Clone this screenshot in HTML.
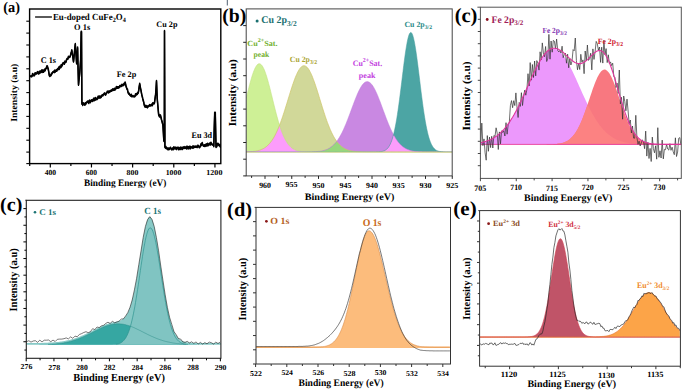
<!DOCTYPE html>
<html><head><meta charset="utf-8"><title>XPS spectra of Eu-doped CuFe2O4</title>
<style>html,body{margin:0;padding:0;background:#fff;overflow:hidden;} svg{display:block;font-family:"Liberation Serif", serif;text-rendering:geometricPrecision;}</style>
</head><body>
<svg width="685" height="392" viewBox="0 0 685 392"><defs>
<clipPath id="clipA"><rect x="29.6" y="9" width="191.2" height="154.6"/></clipPath>
<clipPath id="clipA2"><rect x="0" y="0" width="225" height="187.6"/></clipPath>
<clipPath id="clipB"><rect x="246.2" y="8.9" width="206" height="167"/></clipPath>
<clipPath id="clipC"><rect x="480.4" y="7.2" width="200.9" height="171.2"/></clipPath>
<clipPath id="clipC2"><rect x="26.3" y="200.3" width="194.6" height="157.7"/></clipPath>
<clipPath id="clipD"><rect x="256" y="207.4" width="194.5" height="156.6"/></clipPath>
<clipPath id="clipE"><rect x="479.6" y="210.6" width="200.8" height="155.6"/></clipPath>
</defs><rect width="685" height="392" fill="#fff"/>
<g clip-path="url(#clipA)">
<polyline points="29.6,75.6 30,75.8 30.5,75.9 30.9,75.9 31.3,76.2 31.7,75.5 32.1,75.8 32.6,73.5 33,74.5 33.4,74.3 33.8,75.3 34.2,74.4 34.6,74.9 35,72.8 35.4,73.5 35.8,72.8 36.2,73.4 36.6,73.3 37,73 37.4,71.6 37.8,72 38.2,72 38.6,73.4 39,72.9 39.4,71.2 39.8,72.7 40.2,70.9 40.6,71.9 41,71.5 41.4,70.4 41.8,69.9 42.2,71.9 42.6,70 43.1,69.9 43.5,71.6 43.9,71.1 44.3,70 44.7,69 45.1,70.2 45.6,68.6 46,68 46.4,67.7 46.9,65.8 47.3,65.8 47.8,67.4 48.3,69 48.8,72 49.3,75 49.8,75.8 50.2,74.9 50.6,75.3 51.1,74.9 51.5,73.1 52,73.3 52.4,72.7 52.8,71.9 53.2,71.6 53.6,71.1 54,71.4 54.4,71.9 54.8,70.1 55.2,71.5 55.6,70.4 56,70.5 56.4,69.7 56.8,70.6 57.2,69.4 57.6,68.6 58,68.7 58.4,68.9 58.8,66.9 59.2,68.9 59.6,66.2 60,67 60.4,67.2 60.8,67.1 61.2,64.6 61.6,66.1 62,64.7 62.4,64.8 62.8,63 63.2,62.7 63.6,62.6 64,63 64.4,63.6 64.9,61.1 65.3,61.9 65.7,61.8 66.2,61.2 66.6,59.2 67.1,58.6 67.5,58.5 67.9,58.5 68.4,56.3 68.8,56.7 69.2,56.9 69.7,56.6 70.1,56.3 70.5,55 70.9,53.3 71.4,51.5 71.8,49.8 72.2,52.7 72.7,55.6 73.1,58.5 73.5,61.4 74,57 74.4,52.5 74.8,48 75.3,43.6 75.7,50.1 76.2,56.7 76.6,63.2 77.1,55.2 77.6,47.1 78,65.8 78.5,84.6 78.9,80.4 79.4,76.2 79.8,72 80.6,60 81.2,31.3 81.5,31.3 81.9,103.6 82.3,102.5 82.7,104.8 83.2,102.7 83.6,103.4 84,103.8 84.4,103.9 84.8,104.5 85.2,102.8 85.6,104.1 86,103 86.4,102.2 86.8,102 87.2,101.5 87.6,101.1 88,101.1 88.4,102.2 88.8,102.8 89.2,100.5 89.6,100.1 90,101 90.4,102 90.8,100.7 91.2,100.2 91.6,99.7 92,100.4 92.4,100.8 92.8,99.7 93.2,99.4 93.6,98.3 94,100.3 94.4,97.9 94.8,98.9 95.2,99.6 95.6,97.6 96,98.4 96.4,98.8 96.8,99.1 97.2,98.1 97.6,98.3 98,96.3 98.4,97 98.8,96 99.2,97.6 99.6,96 100,96.1 100.4,97.3 100.8,96.7 101.2,96.8 101.6,95.3 102,95.2 102.4,94.9 102.8,95.3 103.3,94.4 103.7,93.7 104.1,93.8 104.5,92.9 104.9,93.2 105.4,94.5 105.8,94.2 106.2,93.1 106.6,92.6 107,91.9 107.4,91.1 107.9,91.3 108.3,92.3 108.7,92.3 109.1,90.8 109.5,91.6 110,91.4 110.4,90.9 110.8,90.2 111.2,90.4 111.6,90.5 112,89.4 112.4,90 112.8,88.8 113.2,89.1 113.6,89.7 114,89.3 114.4,88.2 114.8,89.6 115.2,88.7 115.6,88.4 116,88 116.4,86.5 116.8,87.7 117.2,86.7 117.7,87.5 118.1,86.7 118.5,87.4 118.9,86.7 119.3,86.9 119.8,85.5 120.2,86 120.6,86 121,85.2 121.4,85.7 121.9,84.3 122.3,85.2 122.8,85 123.2,84.3 123.7,84.8 124.1,83.3 124.6,83.7 125.1,81.9 125.6,84 126.1,86 126.5,87.3 126.9,88.6 127.4,88.9 127.8,91 128.2,92.5 128.7,93.5 129.1,93 129.6,94.3 130,94.5 130.4,95.2 130.8,95.5 131.3,94.2 131.7,96 132.1,95.6 132.6,96 133,95.6 133.4,96 133.8,96.1 134.3,96.3 134.7,95.7 135.1,95.8 135.6,93.8 136,94.8 136.5,93.5 136.9,93.7 137.4,93.8 137.8,92.3 138.3,92.5 138.8,89.4 139.2,86.4 139.7,83.3 140.1,85.6 140.5,87.8 141,90.1 141.4,92.3 141.8,94.6 142.3,96.4 142.7,98.2 143.2,100 143.7,101.9 144.1,103.9 144.6,105.8 145,106.5 145.4,106.5 145.8,105.3 146.2,106.5 146.6,106.1 147,105.9 147.4,107.2 147.8,106 148.3,106.2 148.7,105.6 149.1,105.3 149.6,104.6 150,105.5 150.4,105.2 150.8,104.7 151.2,105.1 151.6,104.8 152,103.7 152.4,105.1 152.8,102.7 153.2,103.4 153.6,102.9 154,103 154.4,103 155,98.5 155.6,94 156.1,87.2 156.5,80.5 157.2,98 157.7,103.7 158.2,109.3 158.7,115 159.1,114.3 159.5,116.3 160,115.5 160.4,114.9 160.8,116.3 161.2,118 161.6,119.7 162.1,121.4 162.5,123.1 162.9,124.8 163.4,132.7 163.8,140.5 164.3,141 164.5,30.4 164.9,146.8 165.4,147.4 165.9,146.5 166.3,148 166.8,148.2 167.2,147.8 167.6,148.4 168,149.3 168.4,149 168.9,147.9 169.3,148.9 169.7,148.5 170.1,147.8 170.5,147.2 170.9,148.3 171.3,148.2 171.7,149.2 172.1,149.2 172.5,148.3 172.9,147.7 173.4,149 173.8,146.8 174.2,147 174.6,148.2 175,148 175.4,148.3 175.8,147.1 176.2,148.3 176.6,148.9 177,147.6 177.4,147.7 177.8,147.2 178.2,147.3 178.6,149 179,147.5 179.4,148.9 179.8,148.8 180.2,148 180.6,147.1 181,148.9 181.4,147.7 181.8,147.4 182.2,147.2 182.6,148.8 183,147.6 183.4,147 183.8,147.5 184.2,146.6 184.6,147.8 185,147.5 185.4,147.3 185.8,146.9 186.2,148.1 186.6,148.2 187,146.1 187.4,147.4 187.8,146.7 188.2,148.3 188.6,147.9 189,146.5 189.4,146.5 189.8,146.2 190.2,148.3 190.6,146.5 191,147.2 191.4,146.9 191.8,147.3 192.2,147.1 192.6,147.4 193,145.8 193.4,147.4 193.8,146.2 194.2,146.8 194.6,146.2 195,146.6 195.4,146 195.8,146.6 196.3,146.3 196.7,146 197.1,146.9 197.5,146.5 198,145.1 198.4,145.6 198.8,146 199.2,147.1 199.7,147 200.1,146.1 200.5,145.9 200.9,143.8 201.3,144.9 201.8,143.2 202.2,142.5 202.7,144 203.2,145.2 203.6,145.6 204,145.4 204.4,144.9 204.8,145.9 205.2,144.5 205.6,144.5 206,145.6 206.4,143.8 206.8,144 207.2,145.3 207.6,143.3 208,144.3 208.4,145 208.8,144.4 209.2,143.6 209.7,143.1 210.1,144.1 210.5,144.3 210.9,142.2 211.3,142.9 211.7,143.4 212.1,144.1 212.6,144.4 213,144.5 213.4,144.6 213.8,146 214.2,129.2 214.7,112.3 215.3,112.3 216,146.8 216.4,146.3 216.8,146.1 217.3,143.6 217.7,143.2 218.1,143.2 218.6,144.5 219,145 219.4,145.3 219.9,144.2 220.4,146.5 220.8,146.5" fill="none" stroke="#000" stroke-width="1.5" stroke-linejoin="round" />
<polyline points="29.6,76.4 30,76.6 30.5,76.7 30.9,76.7 31.3,77 31.7,76.3 32.1,76.6 32.6,74.3 33,75.3 33.4,75.1 33.8,76.1 34.2,75.2 34.6,75.7 35,73.6 35.4,74.3 35.8,73.6 36.2,74.2 36.6,74.1 37,73.8 37.4,72.4 37.8,72.8 38.2,72.8 38.6,74.2 39,73.7 39.4,72 39.8,73.5 40.2,71.7 40.6,72.7 41,72.3 41.4,71.2 41.8,70.7 42.2,72.7 42.6,70.8 43.1,70.7 43.5,72.4 43.9,71.9 44.3,70.8 44.7,69.8 45.1,71 45.6,69.4 46,68.8 46.4,68.5 46.9,66.6 47.3,66.6 47.8,68.2 48.3,69.8 48.8,72.8 49.3,75.8 49.8,76.6 50.2,75.7 50.6,76.1 51.1,75.7 51.5,73.9 52,74.1 52.4,73.5 52.8,72.7 53.2,72.4 53.6,71.9 54,72.2 54.4,72.7 54.8,70.9 55.2,72.3 55.6,71.2 56,71.3 56.4,70.5 56.8,71.4 57.2,70.2 57.6,69.4 58,69.5 58.4,69.7 58.8,67.7 59.2,69.7 59.6,67 60,67.8 60.4,68 60.8,67.9 61.2,65.4 61.6,66.9 62,65.5 62.4,65.6 62.8,63.8 63.2,63.5 63.6,63.4 64,63.8 64.4,64.4 64.9,61.9 65.3,62.7 65.7,62.6 66.2,62 66.6,60 67.1,59.4 67.5,59.3 67.9,59.3 68.4,57.1 68.8,57.5 69.2,57.7 69.7,57.4 70.1,57.1 70.5,55.8 70.9,54.1 71.4,52.3 71.8,50.6 72.2,53.5 72.7,56.4 73.1,59.3 73.5,62.2 74,57.8 74.4,53.3 74.8,48.8 75.3,44.4 75.7,50.9 76.2,57.5 76.6,64 77.1,56 77.6,47.9 78,66.6 78.5,85.4 78.9,81.2 79.4,77 79.8,72.8 80.6,60.8 81.2,32.1 81.5,32.1 81.9,104.4 82.3,103.3 82.7,105.6 83.2,103.5 83.6,104.2 84,104.6 84.4,104.7 84.8,105.3 85.2,103.6 85.6,104.9 86,103.8 86.4,103 86.8,102.8 87.2,102.3 87.6,101.9 88,101.9 88.4,103 88.8,103.6 89.2,101.3 89.6,100.9 90,101.8 90.4,102.8 90.8,101.5 91.2,101 91.6,100.5 92,101.2 92.4,101.6 92.8,100.5 93.2,100.2 93.6,99.1 94,101.1 94.4,98.7 94.8,99.7 95.2,100.4 95.6,98.4 96,99.2 96.4,99.6 96.8,99.9 97.2,98.9 97.6,99.1 98,97.1 98.4,97.8 98.8,96.8 99.2,98.4 99.6,96.8 100,96.9 100.4,98.1 100.8,97.5 101.2,97.6 101.6,96.1 102,96 102.4,95.7 102.8,96.1 103.3,95.2 103.7,94.5 104.1,94.6 104.5,93.7 104.9,94 105.4,95.3 105.8,95 106.2,93.9 106.6,93.4 107,92.7 107.4,91.9 107.9,92.1 108.3,93.1 108.7,93.1 109.1,91.6 109.5,92.4 110,92.2 110.4,91.7 110.8,91 111.2,91.2 111.6,91.3 112,90.2 112.4,90.8 112.8,89.6 113.2,89.9 113.6,90.5 114,90.1 114.4,89 114.8,90.4 115.2,89.5 115.6,89.2 116,88.8 116.4,87.3 116.8,88.5 117.2,87.5 117.7,88.3 118.1,87.5 118.5,88.2 118.9,87.5 119.3,87.7 119.8,86.3 120.2,86.8 120.6,86.8 121,86 121.4,86.5 121.9,85.1 122.3,86 122.8,85.8 123.2,85.1 123.7,85.6 124.1,84.1 124.6,84.5 125.1,82.7 125.6,84.8 126.1,86.8 126.5,88.1 126.9,89.4 127.4,89.7 127.8,91.8 128.2,93.3 128.7,94.3 129.1,93.8 129.6,95.1 130,95.3 130.4,96 130.8,96.3 131.3,95 131.7,96.8 132.1,96.4 132.6,96.8 133,96.4 133.4,96.8 133.8,96.9 134.3,97.1 134.7,96.5 135.1,96.6 135.6,94.6 136,95.6 136.5,94.3 136.9,94.5 137.4,94.6 137.8,93.1 138.3,93.3 138.8,90.2 139.2,87.2 139.7,84.1 140.1,86.4 140.5,88.6 141,90.9 141.4,93.1 141.8,95.4 142.3,97.2 142.7,99 143.2,100.8 143.7,102.7 144.1,104.7 144.6,106.6 145,107.3 145.4,107.3 145.8,106.1 146.2,107.3 146.6,106.9 147,106.7 147.4,108 147.8,106.8 148.3,107 148.7,106.4 149.1,106.1 149.6,105.4 150,106.3 150.4,106 150.8,105.5 151.2,105.9 151.6,105.6 152,104.5 152.4,105.9 152.8,103.5 153.2,104.2 153.6,103.7 154,103.8 154.4,103.8 155,99.3 155.6,94.8 156.1,88 156.5,81.3 157.2,98.8 157.7,104.5 158.2,110.1 158.7,115.8 159.1,115.1 159.5,117.1 160,116.3 160.4,115.7 160.8,117.1 161.2,118.8 161.6,120.5 162.1,122.2 162.5,123.9 162.9,125.6 163.4,133.5 163.8,141.3 164.3,141.8 164.5,31.2 164.9,147.6 165.4,148.2 165.9,147.3 166.3,148.8 166.8,149 167.2,148.6 167.6,149.2 168,150.1 168.4,149.8 168.9,148.7 169.3,149.7 169.7,149.3 170.1,148.6 170.5,148 170.9,149.1 171.3,149 171.7,150 172.1,150 172.5,149.1 172.9,148.5 173.4,149.8 173.8,147.6 174.2,147.8 174.6,149 175,148.8 175.4,149.1 175.8,147.9 176.2,149.1 176.6,149.7 177,148.4 177.4,148.5 177.8,148 178.2,148.1 178.6,149.8 179,148.3 179.4,149.7 179.8,149.6 180.2,148.8 180.6,147.9 181,149.7 181.4,148.5 181.8,148.2 182.2,148 182.6,149.6 183,148.4 183.4,147.8 183.8,148.3 184.2,147.4 184.6,148.6 185,148.3 185.4,148.1 185.8,147.7 186.2,148.9 186.6,149 187,146.9 187.4,148.2 187.8,147.5 188.2,149.1 188.6,148.7 189,147.3 189.4,147.3 189.8,147 190.2,149.1 190.6,147.3 191,148 191.4,147.7 191.8,148.1 192.2,147.9 192.6,148.2 193,146.6 193.4,148.2 193.8,147 194.2,147.6 194.6,147 195,147.4 195.4,146.8 195.8,147.4 196.3,147.1 196.7,146.8 197.1,147.7 197.5,147.3 198,145.9 198.4,146.4 198.8,146.8 199.2,147.9 199.7,147.8 200.1,146.9 200.5,146.7 200.9,144.6 201.3,145.7 201.8,144 202.2,143.3 202.7,144.8 203.2,146 203.6,146.4 204,146.2 204.4,145.7 204.8,146.7 205.2,145.3 205.6,145.3 206,146.4 206.4,144.6 206.8,144.8 207.2,146.1 207.6,144.1 208,145.1 208.4,145.8 208.8,145.2 209.2,144.4 209.7,143.9 210.1,144.9 210.5,145.1 210.9,143 211.3,143.7 211.7,144.2 212.1,144.9 212.6,145.2 213,145.3 213.4,145.4 213.8,146.8 214.2,130 214.7,113.1 215.3,113.1 216,147.6 216.4,147.1 216.8,146.9 217.3,144.4 217.7,144 218.1,144 218.6,145.3 219,145.8 219.4,146.1 219.9,145 220.4,147.3 220.8,147.3" fill="none" stroke="#000" stroke-width="1.3" stroke-linejoin="round" />
</g>
<rect x="29.60" y="9.00" width="191.20" height="154.60" fill="none" stroke="#000" stroke-width="1.4"/>
<line x1="26.30" y1="21.20" x2="29.60" y2="21.20" stroke="#000" stroke-width="1.1" />
<line x1="26.30" y1="33.10" x2="29.60" y2="33.10" stroke="#000" stroke-width="1.1" />
<line x1="26.30" y1="45.00" x2="29.60" y2="45.00" stroke="#000" stroke-width="1.1" />
<line x1="26.30" y1="56.90" x2="29.60" y2="56.90" stroke="#000" stroke-width="1.1" />
<line x1="26.30" y1="68.80" x2="29.60" y2="68.80" stroke="#000" stroke-width="1.1" />
<line x1="26.30" y1="80.70" x2="29.60" y2="80.70" stroke="#000" stroke-width="1.1" />
<line x1="26.30" y1="92.60" x2="29.60" y2="92.60" stroke="#000" stroke-width="1.1" />
<line x1="26.30" y1="104.50" x2="29.60" y2="104.50" stroke="#000" stroke-width="1.1" />
<line x1="26.30" y1="116.40" x2="29.60" y2="116.40" stroke="#000" stroke-width="1.1" />
<line x1="26.30" y1="128.30" x2="29.60" y2="128.30" stroke="#000" stroke-width="1.1" />
<line x1="26.30" y1="140.20" x2="29.60" y2="140.20" stroke="#000" stroke-width="1.1" />
<line x1="26.30" y1="152.10" x2="29.60" y2="152.10" stroke="#000" stroke-width="1.1" />
<line x1="26.30" y1="163.60" x2="29.60" y2="163.60" stroke="#000" stroke-width="1.1" />
<line x1="29.72" y1="163.60" x2="29.72" y2="166.00" stroke="#000" stroke-width="1.2" />
<line x1="50.30" y1="163.60" x2="50.30" y2="167.50" stroke="#000" stroke-width="1.2" />
<line x1="70.88" y1="163.60" x2="70.88" y2="166.00" stroke="#000" stroke-width="1.2" />
<line x1="91.46" y1="163.60" x2="91.46" y2="167.50" stroke="#000" stroke-width="1.2" />
<line x1="112.04" y1="163.60" x2="112.04" y2="166.00" stroke="#000" stroke-width="1.2" />
<line x1="132.62" y1="163.60" x2="132.62" y2="167.50" stroke="#000" stroke-width="1.2" />
<line x1="153.20" y1="163.60" x2="153.20" y2="166.00" stroke="#000" stroke-width="1.2" />
<line x1="173.78" y1="163.60" x2="173.78" y2="167.50" stroke="#000" stroke-width="1.2" />
<line x1="194.36" y1="163.60" x2="194.36" y2="166.00" stroke="#000" stroke-width="1.2" />
<line x1="214.94" y1="163.60" x2="214.94" y2="167.50" stroke="#000" stroke-width="1.2" />
<g id="a_tl0" transform="matrix(1.0084 0 0 1.0373 -0.486 -6.151)" ><text x="44.80" y="174.90" font-size="7.5" fill="#000" font-weight="bold" >400</text></g>
<g id="a_tl1" transform="matrix(0.9913 0 0 1.0409 0.357 -6.646)" ><text x="86.16" y="174.90" font-size="7.5" fill="#000" font-weight="bold" >600</text></g>
<g id="a_tl2" transform="matrix(1.0452 0 0 1.0110 -6.365 -1.901)" ><text x="127.22" y="174.90" font-size="7.5" fill="#000" font-weight="bold" >800</text></g>
<g id="a_tl3" transform="matrix(1.0457 0 0 0.9934 -8.699 1.242)" ><text x="166.73" y="174.90" font-size="7.5" fill="#000" font-weight="bold" >1000</text></g>
<g id="a_tl4" transform="matrix(1.0701 0 0 1.0166 -15.785 -2.660)" ><text x="207.59" y="174.90" font-size="7.5" fill="#000" font-weight="bold" >1200</text></g>
<g id="a_xt" transform="matrix(0.9331 0 0 0.9798 5.030 3.932)" clip-path="url(#clipA2)"><text x="84.60" y="186.30" font-size="10" fill="#000" font-weight="bold" >Binding Energy (eV)</text></g>
<g id="a_yl" transform="matrix(0.9199 0 0 0.9683 3.312 3.238)" ><text x="14.75" y="92.45" font-size="10" fill="#000" font-weight="bold" text-anchor="middle" transform="rotate(-90 14.75 92.45)">Intensity (a.u)</text></g>
<g id="a_lbl" transform="matrix(0.9575 0 0 0.9860 -0.158 -0.108)" ><text x="3.50" y="12.00" font-size="15" fill="#000" font-weight="bold" >(a)</text></g>
<line x1="35.10" y1="17.00" x2="51.90" y2="17.00" stroke="#000" stroke-width="1.3" />
<g id="a_leg" transform="matrix(1.0295 0 0 1.0810 -2.164 -0.410)" ><text x="53.50" y="19.20" font-size="8.6" fill="#000" font-weight="bold" >Eu-doped CuFe<tspan dy="2" font-size="6">2</tspan><tspan dy="-2">O</tspan><tspan dy="2" font-size="6">4</tspan></text></g>
<g id="a_c1s" transform="matrix(1.0242 0 0 1.0755 -1.506 -4.828)" ><text x="41.30" y="62.90" font-size="8" fill="#000" font-weight="bold" >C 1s</text></g>
<g id="a_o1s" transform="matrix(1.0517 0 0 1.1043 -4.340 -2.839)" ><text x="74.60" y="29.90" font-size="8" fill="#000" font-weight="bold" >O 1s</text></g>
<g id="a_fe" transform="matrix(1.0305 0 0 1.0342 -4.148 -2.752)" ><text x="117.40" y="77.30" font-size="8" fill="#000" font-weight="bold" >Fe 2p</text></g>
<g id="a_cu" transform="matrix(1.0209 0 0 1.0327 -3.708 -1.401)" ><text x="156.80" y="27.90" font-size="8" fill="#000" font-weight="bold" >Cu 2p</text></g>
<g id="a_eu" transform="matrix(1.0167 0 0 1.0660 -3.956 -9.384)" ><text x="192.30" y="138.60" font-size="8" fill="#000" font-weight="bold" >Eu 3d</text></g>
<g clip-path="url(#clipB)">
<polygon points="246.2,152 246.2,98.4 246.9,95.6 247.6,92.7 248.3,89.9 249,87.2 249.7,84.5 250.4,81.9 251.1,79.4 251.8,77 252.5,74.8 253.2,72.8 253.9,70.9 254.6,69.2 255.3,67.7 256,66.5 256.7,65.4 257.4,64.6 258.1,64.1 258.8,63.8 259.5,63.7 260.2,63.9 260.9,64.4 261.6,65.1 262.3,66 263,67.2 263.7,68.5 264.4,70.1 265.1,71.9 265.8,73.9 266.5,76.1 267.2,78.4 267.9,80.8 268.6,83.4 269.3,86 270,88.7 270.7,91.5 271.4,94.4 272.1,97.2 272.8,100.1 273.5,102.9 274.2,105.8 274.9,108.5 275.6,111.3 276.3,114 277,116.6 277.7,119.1 278.4,121.5 279.1,123.8 279.8,126 280.5,128.2 281.2,130.2 281.9,132.1 282.6,133.8 283.3,135.5 284,137.1 284.7,138.5 285.4,139.9 286.1,141.1 286.8,142.2 287.5,143.3 288.2,144.3 288.9,145.1 289.6,145.9 290.3,146.6 291,147.3 291.7,147.9 292.4,148.4 293.1,148.8 293.8,149.2 294.5,149.6 295.2,149.9 295.9,150.2 296.6,150.5 297.3,150.7 298,150.9 298.7,151 299.4,151.2 300.1,151.3 300.8,151.4 301.5,151.5 302.2,151.6 302.9,151.7 303.6,151.7 304.3,151.8 305,151.8 305.7,151.8 306.4,151.9 307.1,151.9 307.8,151.9 308.5,151.9 309.2,151.9 309.9,151.9 310.6,152 311.3,152 312,152 312.7,152 313.4,152 314.1,152 314.8,152 315.5,152 316.2,152 316.9,152 317.6,152 318.3,152 319,152 319.7,152 320.4,152 321.1,152 321.8,152 322.5,152 323.2,152 323.9,152 324.6,152 325.3,152 326,152 326.7,152 327.4,152 328.1,152 328.8,152 329.5,152 330.2,152 330.9,152 331.6,152 332.3,152 333,152 333.7,152 334.4,152 335.1,152 335.8,152 336.5,152 337.2,152 337.9,152 338.6,152 339.3,152 340,152 340.7,152 341.4,152 342.1,152 342.8,152 343.5,152 344.2,152 344.9,152 345.6,152 346.3,152 347,152 347.7,152 348.4,152 349.1,152 349.8,152 350.5,152 351.2,152 351.9,152 352.6,152 353.3,152 354,152 354.7,152 355.4,152 356.1,152 356.8,152 357.5,152 358.2,152 358.9,152 359.6,152 360.3,152 361,152 361.7,152 362.4,152 363.1,152 363.8,152 364.5,152 365.2,152 365.9,152 366.6,152 367.3,152 368,152 368.7,152 369.4,152 370.1,152 370.8,152 371.5,152 372.2,152 372.9,152 373.6,152 374.3,152 375,152 375.7,152 376.4,152 377.1,152 377.8,152 378.5,152 379.2,152 379.9,152 380.6,152 381.3,152 382,152 382.7,152 383.4,152 384.1,152 384.8,152 385.5,152 386.2,152 386.9,152 387.6,152 388.3,152 389,152 389.7,152 390.4,152 391.1,152 391.8,152 392.5,152 393.2,152 393.9,152 394.6,152 395.3,152 396,152 396.7,152 397.4,152 398.1,152 398.8,152 399.5,152 400.2,152 400.9,152 401.6,152 402.3,152 403,152 403.7,152 404.4,152 405.1,152 405.8,152 406.5,152 407.2,152 407.9,152 408.6,152 409.3,152 410,152 410.7,152 411.4,152 412.1,152 412.8,152 413.5,152 414.2,152 414.9,152 415.6,152 416.3,152 417,152 417.7,152 418.4,152 419.1,152 419.8,152 420.5,152 421.2,152 421.9,152 422.6,152 423.3,152 424,152 424.7,152 425.4,152 426.1,152 426.8,152 427.5,152 428.2,152 428.9,152 429.6,152 430.3,152 431,152 431.7,152 432.4,152 433.1,152 433.8,152 434.5,152 435.2,152 435.9,152 436.6,152 437.3,152 438,152 438.7,152 439.4,152 440.1,152 440.8,152 441.5,152 442.2,152 442.9,152 443.6,152 444.3,152 445,152 445.7,152 446.4,152 447.1,152 447.8,152 448.5,152 449.2,152 449.9,152 450.6,152 451.3,152 452,152 452,152" fill="#cef096" />
<polygon points="246.2,152 246.2,151.9 246.9,151.9 247.6,151.8 248.3,151.8 249,151.8 249.7,151.7 250.4,151.7 251.1,151.6 251.8,151.6 252.5,151.5 253.2,151.4 253.9,151.4 254.6,151.3 255.3,151.2 256,151 256.7,150.9 257.4,150.8 258.1,150.6 258.8,150.4 259.5,150.2 260.2,150 260.9,149.7 261.6,149.4 262.3,149.1 263,148.8 263.7,148.4 264.4,148 265.1,147.5 265.8,147 266.5,146.5 267.2,145.9 267.9,145.2 268.6,144.5 269.3,143.8 270,143 270.7,142.1 271.4,141.2 272.1,140.2 272.8,139.1 273.5,138 274.2,136.8 274.9,135.5 275.6,134.1 276.3,132.7 277,131.2 277.7,129.6 278.4,128 279.1,126.3 279.8,124.5 280.5,122.7 281.2,120.7 281.9,118.8 282.6,116.7 283.3,114.6 284,112.5 284.7,110.3 285.4,108.1 286.1,105.8 286.8,103.6 287.5,101.3 288.2,99 288.9,96.7 289.6,94.4 290.3,92.2 291,90 291.7,87.8 292.4,85.6 293.1,83.6 293.8,81.6 294.5,79.6 295.2,77.8 295.9,76.1 296.6,74.5 297.3,72.9 298,71.6 298.7,70.3 299.4,69.2 300.1,68.2 300.8,67.4 301.5,66.7 302.2,66.2 302.9,65.9 303.6,65.7 304.3,65.7 305,65.9 305.7,66.2 306.4,66.7 307.1,67.3 307.8,68.1 308.5,69 309.2,70.1 309.9,71.4 310.6,72.7 311.3,74.2 312,75.8 312.7,77.6 313.4,79.4 314.1,81.3 314.8,83.3 315.5,85.3 316.2,87.5 316.9,89.6 317.6,91.9 318.3,94.1 319,96.4 319.7,98.7 320.4,101 321.1,103.2 321.8,105.5 322.5,107.8 323.2,110 323.9,112.2 324.6,114.3 325.3,116.4 326,118.5 326.7,120.5 327.4,122.4 328.1,124.2 328.8,126 329.5,127.8 330.2,129.4 330.9,131 331.6,132.5 332.3,133.9 333,135.3 333.7,136.6 334.4,137.8 335.1,139 335.8,140 336.5,141 337.2,142 337.9,142.9 338.6,143.7 339.3,144.4 340,145.1 340.7,145.8 341.4,146.4 342.1,146.9 342.8,147.4 343.5,147.9 344.2,148.3 344.9,148.7 345.6,149.1 346.3,149.4 347,149.7 347.7,149.9 348.4,150.2 349.1,150.4 349.8,150.6 350.5,150.7 351.2,150.9 351.9,151 352.6,151.1 353.3,151.3 354,151.3 354.7,151.4 355.4,151.5 356.1,151.6 356.8,151.6 357.5,151.7 358.2,151.7 358.9,151.8 359.6,151.8 360.3,151.8 361,151.8 361.7,151.9 362.4,151.9 363.1,151.9 363.8,151.9 364.5,151.9 365.2,151.9 365.9,152 366.6,152 367.3,152 368,152 368.7,152 369.4,152 370.1,152 370.8,152 371.5,152 372.2,152 372.9,152 373.6,152 374.3,152 375,152 375.7,152 376.4,152 377.1,152 377.8,152 378.5,152 379.2,152 379.9,152 380.6,152 381.3,152 382,152 382.7,152 383.4,152 384.1,152 384.8,152 385.5,152 386.2,152 386.9,152 387.6,152 388.3,152 389,152 389.7,152 390.4,152 391.1,152 391.8,152 392.5,152 393.2,152 393.9,152 394.6,152 395.3,152 396,152 396.7,152 397.4,152 398.1,152 398.8,152 399.5,152 400.2,152 400.9,152 401.6,152 402.3,152 403,152 403.7,152 404.4,152 405.1,152 405.8,152 406.5,152 407.2,152 407.9,152 408.6,152 409.3,152 410,152 410.7,152 411.4,152 412.1,152 412.8,152 413.5,152 414.2,152 414.9,152 415.6,152 416.3,152 417,152 417.7,152 418.4,152 419.1,152 419.8,152 420.5,152 421.2,152 421.9,152 422.6,152 423.3,152 424,152 424.7,152 425.4,152 426.1,152 426.8,152 427.5,152 428.2,152 428.9,152 429.6,152 430.3,152 431,152 431.7,152 432.4,152 433.1,152 433.8,152 434.5,152 435.2,152 435.9,152 436.6,152 437.3,152 438,152 438.7,152 439.4,152 440.1,152 440.8,152 441.5,152 442.2,152 442.9,152 443.6,152 444.3,152 445,152 445.7,152 446.4,152 447.1,152 447.8,152 448.5,152 449.2,152 449.9,152 450.6,152 451.3,152 452,152 452,152" fill="#d1d899" />
<polygon points="246.2,152 246.2,152 246.9,152 247.6,152 248.3,152 249,152 249.7,152 250.4,152 251.1,152 251.8,152 252.5,152 253.2,152 253.9,152 254.6,152 255.3,152 256,152 256.7,152 257.4,152 258.1,152 258.8,152 259.5,152 260.2,152 260.9,152 261.6,152 262.3,152 263,152 263.7,152 264.4,152 265.1,152 265.8,152 266.5,152 267.2,152 267.9,152 268.6,152 269.3,152 270,152 270.7,152 271.4,152 272.1,152 272.8,152 273.5,152 274.2,152 274.9,152 275.6,152 276.3,152 277,152 277.7,152 278.4,152 279.1,152 279.8,152 280.5,152 281.2,152 281.9,152 282.6,152 283.3,152 284,152 284.7,152 285.4,152 286.1,152 286.8,152 287.5,152 288.2,152 288.9,152 289.6,152 290.3,152 291,152 291.7,152 292.4,152 293.1,152 293.8,152 294.5,152 295.2,152 295.9,152 296.6,152 297.3,152 298,152 298.7,152 299.4,152 300.1,152 300.8,152 301.5,152 302.2,152 302.9,152 303.6,152 304.3,152 305,152 305.7,152 306.4,152 307.1,152 307.8,151.9 308.5,151.9 309.2,151.9 309.9,151.9 310.6,151.9 311.3,151.9 312,151.9 312.7,151.8 313.4,151.8 314.1,151.8 314.8,151.7 315.5,151.7 316.2,151.6 316.9,151.6 317.6,151.5 318.3,151.4 319,151.4 319.7,151.3 320.4,151.2 321.1,151.1 321.8,150.9 322.5,150.8 323.2,150.6 323.9,150.4 324.6,150.2 325.3,150 326,149.7 326.7,149.5 327.4,149.2 328.1,148.8 328.8,148.5 329.5,148.1 330.2,147.6 330.9,147.1 331.6,146.6 332.3,146 333,145.4 333.7,144.8 334.4,144.1 335.1,143.3 335.8,142.5 336.5,141.6 337.2,140.7 337.9,139.7 338.6,138.6 339.3,137.5 340,136.3 340.7,135.1 341.4,133.8 342.1,132.4 342.8,131 343.5,129.5 344.2,127.9 344.9,126.3 345.6,124.7 346.3,123 347,121.2 347.7,119.4 348.4,117.6 349.1,115.8 349.8,113.9 350.5,112 351.2,110.1 351.9,108.2 352.6,106.3 353.3,104.4 354,102.6 354.7,100.7 355.4,98.9 356.1,97.2 356.8,95.5 357.5,93.8 358.2,92.3 358.9,90.8 359.6,89.4 360.3,88.1 361,86.9 361.7,85.8 362.4,84.8 363.1,84 363.8,83.2 364.5,82.6 365.2,82.2 365.9,81.8 366.6,81.7 367.3,81.6 368,81.7 368.7,81.9 369.4,82.3 370.1,82.8 370.8,83.4 371.5,84.2 372.2,85.1 372.9,86.1 373.6,87.2 374.3,88.4 375,89.8 375.7,91.2 376.4,92.7 377.1,94.3 377.8,95.9 378.5,97.7 379.2,99.4 379.9,101.2 380.6,103.1 381.3,105 382,106.9 382.7,108.8 383.4,110.7 384.1,112.6 384.8,114.4 385.5,116.3 386.2,118.2 386.9,120 387.6,121.7 388.3,123.5 389,125.2 389.7,126.8 390.4,128.4 391.1,129.9 391.8,131.4 392.5,132.8 393.2,134.1 393.9,135.4 394.6,136.6 395.3,137.8 396,138.9 396.7,140 397.4,140.9 398.1,141.9 398.8,142.7 399.5,143.5 400.2,144.3 400.9,145 401.6,145.6 402.3,146.2 403,146.8 403.7,147.3 404.4,147.7 405.1,148.2 405.8,148.6 406.5,148.9 407.2,149.3 407.9,149.6 408.6,149.8 409.3,150.1 410,150.3 410.7,150.5 411.4,150.7 412.1,150.8 412.8,151 413.5,151.1 414.2,151.2 414.9,151.3 415.6,151.4 416.3,151.5 417,151.5 417.7,151.6 418.4,151.7 419.1,151.7 419.8,151.7 420.5,151.8 421.2,151.8 421.9,151.8 422.6,151.9 423.3,151.9 424,151.9 424.7,151.9 425.4,151.9 426.1,151.9 426.8,151.9 427.5,152 428.2,152 428.9,152 429.6,152 430.3,152 431,152 431.7,152 432.4,152 433.1,152 433.8,152 434.5,152 435.2,152 435.9,152 436.6,152 437.3,152 438,152 438.7,152 439.4,152 440.1,152 440.8,152 441.5,152 442.2,152 442.9,152 443.6,152 444.3,152 445,152 445.7,152 446.4,152 447.1,152 447.8,152 448.5,152 449.2,152 449.9,152 450.6,152 451.3,152 452,152 452,152" fill="#c988e2" />
<polygon points="246.2,152 246.2,152 246.9,152 247.6,152 248.3,152 249,152 249.7,152 250.4,152 251.1,152 251.8,152 252.5,152 253.2,152 253.9,152 254.6,152 255.3,152 256,152 256.7,152 257.4,152 258.1,152 258.8,152 259.5,152 260.2,152 260.9,152 261.6,152 262.3,152 263,152 263.7,152 264.4,152 265.1,152 265.8,152 266.5,152 267.2,152 267.9,152 268.6,152 269.3,152 270,152 270.7,152 271.4,152 272.1,152 272.8,152 273.5,152 274.2,152 274.9,152 275.6,152 276.3,152 277,152 277.7,152 278.4,152 279.1,152 279.8,152 280.5,152 281.2,152 281.9,152 282.6,152 283.3,152 284,152 284.7,152 285.4,152 286.1,152 286.8,152 287.5,152 288.2,152 288.9,152 289.6,152 290.3,152 291,152 291.7,152 292.4,152 293.1,152 293.8,152 294.5,152 295.2,152 295.9,152 296.6,152 297.3,152 298,152 298.7,152 299.4,152 300.1,152 300.8,152 301.5,152 302.2,152 302.9,152 303.6,152 304.3,152 305,152 305.7,152 306.4,152 307.1,152 307.8,152 308.5,152 309.2,152 309.9,152 310.6,152 311.3,152 312,152 312.7,152 313.4,152 314.1,152 314.8,152 315.5,152 316.2,152 316.9,152 317.6,152 318.3,152 319,152 319.7,152 320.4,152 321.1,152 321.8,152 322.5,152 323.2,152 323.9,152 324.6,152 325.3,152 326,152 326.7,152 327.4,152 328.1,152 328.8,152 329.5,152 330.2,152 330.9,152 331.6,152 332.3,152 333,152 333.7,152 334.4,152 335.1,152 335.8,152 336.5,152 337.2,152 337.9,152 338.6,152 339.3,152 340,152 340.7,152 341.4,152 342.1,152 342.8,152 343.5,152 344.2,152 344.9,152 345.6,152 346.3,152 347,152 347.7,152 348.4,152 349.1,152 349.8,152 350.5,152 351.2,152 351.9,152 352.6,152 353.3,152 354,152 354.7,152 355.4,152 356.1,152 356.8,152 357.5,152 358.2,152 358.9,152 359.6,152 360.3,152 361,152 361.7,152 362.4,152 363.1,152 363.8,152 364.5,152 365.2,152 365.9,152 366.6,152 367.3,152 368,152 368.7,152 369.4,152 370.1,152 370.8,152 371.5,152 372.2,152 372.9,152 373.6,152 374.3,152 375,152 375.7,152 376.4,151.9 377.1,151.9 377.8,151.9 378.5,151.9 379.2,151.8 379.9,151.7 380.6,151.7 381.3,151.6 382,151.4 382.7,151.3 383.4,151.1 384.1,150.8 384.8,150.5 385.5,150.1 386.2,149.6 386.9,149 387.6,148.3 388.3,147.4 389,146.4 389.7,145.2 390.4,143.9 391.1,142.2 391.8,140.4 392.5,138.2 393.2,135.8 393.9,133.1 394.6,130 395.3,126.6 396,122.9 396.7,118.9 397.4,114.5 398.1,109.8 398.8,104.8 399.5,99.6 400.2,94.1 400.9,88.5 401.6,82.8 402.3,77 403,71.3 403.7,65.6 404.4,60.2 405.1,55 405.8,50.2 406.5,45.9 407.2,42 407.9,38.7 408.6,36.1 409.3,34.1 410,32.9 410.7,32.4 411.4,32.7 412.1,33.7 412.8,35.4 413.5,37.9 414.2,41 414.9,44.7 415.6,48.9 416.3,53.6 417,58.7 417.7,64.1 418.4,69.6 419.1,75.3 419.8,81.1 420.5,86.9 421.2,92.5 421.9,98 422.6,103.3 423.3,108.4 424,113.2 424.7,117.6 425.4,121.8 426.1,125.6 426.8,129.1 427.5,132.2 428.2,135.1 428.9,137.6 429.6,139.8 430.3,141.7 431,143.4 431.7,144.9 432.4,146.1 433.1,147.2 433.8,148.1 434.5,148.8 435.2,149.4 435.9,150 436.6,150.4 437.3,150.7 438,151 438.7,151.2 439.4,151.4 440.1,151.5 440.8,151.6 441.5,151.7 442.2,151.8 442.9,151.8 443.6,151.9 444.3,151.9 445,151.9 445.7,152 446.4,152 447.1,152 447.8,152 448.5,152 449.2,152 449.9,152 450.6,152 451.3,152 452,152 452,152" fill="#4ca5a4" />
<polygon points="246.2,152.3 246.2,151.3 246.9,151.3 247.6,151.3 248.3,151.3 249,151.3 249.7,151.3 250.4,151.3 251.1,151.3 251.8,151.3 252.5,151.3 253.2,151.3 253.9,151.3 254.6,151.3 255.3,151.2 256,151 256.7,150.9 257.4,150.8 258.1,150.6 258.8,150.4 259.5,150.2 260.2,150 260.9,149.7 261.6,149.4 262.3,149.1 263,148.8 263.7,148.4 264.4,148 265.1,147.5 265.8,147 266.5,146.5 267.2,145.9 267.9,145.2 268.6,144.5 269.3,143.8 270,143 270.7,142.1 271.4,141.2 272.1,140.2 272.8,139.1 273.5,138 274.2,136.8 274.9,135.5 275.6,134.1 276.3,132.7 277,131.2 277.7,129.6 278.4,128 279.1,126.3 279.8,126 280.5,128.2 281.2,130.2 281.9,132.1 282.6,133.8 283.3,135.5 284,137.1 284.7,138.5 285.4,139.9 286.1,141.1 286.8,142.2 287.5,143.3 288.2,144.3 288.9,145.1 289.6,145.9 290.3,146.6 291,147.3 291.7,147.9 292.4,148.4 293.1,148.8 293.8,149.2 294.5,149.6 295.2,149.9 295.9,150.2 296.6,150.5 297.3,150.7 298,150.9 298.7,151 299.4,151.2 300.1,151.3 300.8,151.4 301.5,151.5 302.2,151.6 302.9,151.7 303.6,151.7 304.3,151.8 305,151.8 305.7,151.8 306.4,151.9 307.1,151.9 307.8,151.9 308.5,151.9 309.2,151.9 309.9,151.9 310.6,152 311.3,152 312,152 312.7,152 313.4,152 314.1,152 314.8,152 315.5,152 316.2,152 316.9,152 317.6,152 318.3,152 319,152 319.7,152 320.4,152 321.1,152 321.8,152 322.5,152 323.2,152 323.9,152 324.6,152 325.3,152 326,152 326.7,152 327.4,152 328.1,152 328.8,152 329.5,152 330.2,152 330.9,152 331.6,152 332.3,152 333,152 333.7,152 334.4,152 335.1,152 335.8,152 336.5,152 337.2,152 337.9,152 338.6,152 339.3,152 340,152 340.7,152 341.4,152 342.1,152 342.8,152 343.5,152 344.2,152 344.9,152 345.6,152 346.3,152 347,152 347.7,152 348.4,152 349.1,152 349.8,152 350.5,152 351.2,152 351.9,152 352.6,152 353.3,152 354,152 354.7,152 355.4,152 356.1,152 356.8,152 357.5,152 358.2,152 358.9,152 359.6,152 360.3,152 361,152 361.7,152 362.4,152 363.1,152 363.8,152 364.5,152 365.2,152 365.9,152 366.6,152 367.3,152 368,152 368.7,152 369.4,152 370.1,152 370.8,152 371.5,152 372.2,152 372.9,152 373.6,152 374.3,152 375,152 375.7,152 376.4,152 377.1,152 377.8,152 378.5,152 379.2,152 379.9,152 380.6,152 381.3,152 382,152 382.7,152 383.4,152 384.1,152 384.8,152 385.5,152 386.2,152 386.9,152 387.6,152 388.3,152 389,152 389.7,152 390.4,152 391.1,152 391.8,152 392.5,152 393.2,152 393.9,152 394.6,152 395.3,152 396,152 396.7,152 397.4,152 398.1,152 398.8,152 399.5,152 400.2,152 400.9,152 401.6,152 402.3,152 403,152 403.7,152 404.4,152 405.1,152 405.8,152 406.5,152 407.2,152 407.9,152 408.6,152 409.3,152 410,152 410.7,152 411.4,152 412.1,152 412.8,152 413.5,152 414.2,152 414.9,152 415.6,152 416.3,152 417,152 417.7,152 418.4,152 419.1,152 419.8,152 420.5,152 421.2,152 421.9,152 422.6,152 423.3,152 424,152 424.7,152 425.4,152 426.1,152 426.8,152 427.5,152 428.2,152 428.9,152 429.6,152 430.3,152 431,152 431.7,152 432.4,152 433.1,152 433.8,152 434.5,152 435.2,152 435.9,152 436.6,152 437.3,152 438,152 438.7,152 439.4,152 440.1,152 440.8,152 441.5,152 442.2,152 442.9,152 443.6,152 444.3,152 445,152 445.7,152 446.4,152 447.1,152 447.8,152 448.5,152 449.2,152 449.9,152 450.6,152 451.3,152 452,152 452,152.3" fill="#fc9cfb" />
<polygon points="246.2,152 246.2,152 246.9,152 247.6,152 248.3,152 249,152 249.7,152 250.4,152 251.1,152 251.8,152 252.5,152 253.2,152 253.9,152 254.6,152 255.3,152 256,152 256.7,152 257.4,152 258.1,152 258.8,152 259.5,152 260.2,152 260.9,152 261.6,152 262.3,152 263,152 263.7,152 264.4,152 265.1,152 265.8,152 266.5,152 267.2,152 267.9,152 268.6,152 269.3,152 270,152 270.7,152 271.4,152 272.1,152 272.8,152 273.5,152 274.2,152 274.9,152 275.6,152 276.3,152 277,152 277.7,152 278.4,152 279.1,152 279.8,152 280.5,152 281.2,152 281.9,152 282.6,152 283.3,152 284,152 284.7,152 285.4,152 286.1,152 286.8,152 287.5,152 288.2,152 288.9,152 289.6,152 290.3,152 291,152 291.7,152 292.4,152 293.1,152 293.8,152 294.5,152 295.2,152 295.9,152 296.6,152 297.3,152 298,152 298.7,152 299.4,152 300.1,152 300.8,152 301.5,152 302.2,152 302.9,152 303.6,152 304.3,152 305,152 305.7,152 306.4,152 307.1,152 307.8,151.9 308.5,151.9 309.2,151.9 309.9,151.9 310.6,151.9 311.3,151.9 312,151.9 312.7,151.8 313.4,151.8 314.1,151.8 314.8,151.7 315.5,151.7 316.2,151.6 316.9,151.6 317.6,151.5 318.3,151.4 319,151.4 319.7,151.3 320.4,151.2 321.1,151.1 321.8,150.9 322.5,150.8 323.2,150.6 323.9,150.4 324.6,150.2 325.3,150 326,149.7 326.7,149.5 327.4,149.2 328.1,148.8 328.8,148.5 329.5,148.1 330.2,147.6 330.9,147.1 331.6,146.6 332.3,146 333,145.4 333.7,144.8 334.4,144.1 335.1,143.3 335.8,142.5 336.5,141.6 337.2,142 337.9,142.9 338.6,143.7 339.3,144.4 340,145.1 340.7,145.8 341.4,146.4 342.1,146.9 342.8,147.4 343.5,147.9 344.2,148.3 344.9,148.7 345.6,149.1 346.3,149.4 347,149.7 347.7,149.9 348.4,150.2 349.1,150.4 349.8,150.6 350.5,150.7 351.2,150.9 351.9,151 352.6,151.1 353.3,151.3 354,151.3 354.7,151.4 355.4,151.5 356.1,151.6 356.8,151.6 357.5,151.7 358.2,151.7 358.9,151.8 359.6,151.8 360.3,151.8 361,151.8 361.7,151.9 362.4,151.9 363.1,151.9 363.8,151.9 364.5,151.9 365.2,151.9 365.9,152 366.6,152 367.3,152 368,152 368.7,152 369.4,152 370.1,152 370.8,152 371.5,152 372.2,152 372.9,152 373.6,152 374.3,152 375,152 375.7,152 376.4,152 377.1,152 377.8,152 378.5,152 379.2,152 379.9,152 380.6,152 381.3,152 382,152 382.7,152 383.4,152 384.1,152 384.8,152 385.5,152 386.2,152 386.9,152 387.6,152 388.3,152 389,152 389.7,152 390.4,152 391.1,152 391.8,152 392.5,152 393.2,152 393.9,152 394.6,152 395.3,152 396,152 396.7,152 397.4,152 398.1,152 398.8,152 399.5,152 400.2,152 400.9,152 401.6,152 402.3,152 403,152 403.7,152 404.4,152 405.1,152 405.8,152 406.5,152 407.2,152 407.9,152 408.6,152 409.3,152 410,152 410.7,152 411.4,152 412.1,152 412.8,152 413.5,152 414.2,152 414.9,152 415.6,152 416.3,152 417,152 417.7,152 418.4,152 419.1,152 419.8,152 420.5,152 421.2,152 421.9,152 422.6,152 423.3,152 424,152 424.7,152 425.4,152 426.1,152 426.8,152 427.5,152 428.2,152 428.9,152 429.6,152 430.3,152 431,152 431.7,152 432.4,152 433.1,152 433.8,152 434.5,152 435.2,152 435.9,152 436.6,152 437.3,152 438,152 438.7,152 439.4,152 440.1,152 440.8,152 441.5,152 442.2,152 442.9,152 443.6,152 444.3,152 445,152 445.7,152 446.4,152 447.1,152 447.8,152 448.5,152 449.2,152 449.9,152 450.6,152 451.3,152 452,152 452,152" fill="#97d77c" />
<polygon points="246.2,152 246.2,152 246.9,152 247.6,152 248.3,152 249,152 249.7,152 250.4,152 251.1,152 251.8,152 252.5,152 253.2,152 253.9,152 254.6,152 255.3,152 256,152 256.7,152 257.4,152 258.1,152 258.8,152 259.5,152 260.2,152 260.9,152 261.6,152 262.3,152 263,152 263.7,152 264.4,152 265.1,152 265.8,152 266.5,152 267.2,152 267.9,152 268.6,152 269.3,152 270,152 270.7,152 271.4,152 272.1,152 272.8,152 273.5,152 274.2,152 274.9,152 275.6,152 276.3,152 277,152 277.7,152 278.4,152 279.1,152 279.8,152 280.5,152 281.2,152 281.9,152 282.6,152 283.3,152 284,152 284.7,152 285.4,152 286.1,152 286.8,152 287.5,152 288.2,152 288.9,152 289.6,152 290.3,152 291,152 291.7,152 292.4,152 293.1,152 293.8,152 294.5,152 295.2,152 295.9,152 296.6,152 297.3,152 298,152 298.7,152 299.4,152 300.1,152 300.8,152 301.5,152 302.2,152 302.9,152 303.6,152 304.3,152 305,152 305.7,152 306.4,152 307.1,152 307.8,152 308.5,152 309.2,152 309.9,152 310.6,152 311.3,152 312,152 312.7,152 313.4,152 314.1,152 314.8,152 315.5,152 316.2,152 316.9,152 317.6,152 318.3,152 319,152 319.7,152 320.4,152 321.1,152 321.8,152 322.5,152 323.2,152 323.9,152 324.6,152 325.3,152 326,152 326.7,152 327.4,152 328.1,152 328.8,152 329.5,152 330.2,152 330.9,152 331.6,152 332.3,152 333,152 333.7,152 334.4,152 335.1,152 335.8,152 336.5,152 337.2,152 337.9,152 338.6,152 339.3,152 340,152 340.7,152 341.4,152 342.1,152 342.8,152 343.5,152 344.2,152 344.9,152 345.6,152 346.3,152 347,152 347.7,152 348.4,152 349.1,152 349.8,152 350.5,152 351.2,152 351.9,152 352.6,152 353.3,152 354,152 354.7,152 355.4,152 356.1,152 356.8,152 357.5,152 358.2,152 358.9,152 359.6,152 360.3,152 361,152 361.7,152 362.4,152 363.1,152 363.8,152 364.5,152 365.2,152 365.9,152 366.6,152 367.3,152 368,152 368.7,152 369.4,152 370.1,152 370.8,152 371.5,152 372.2,152 372.9,152 373.6,152 374.3,152 375,152 375.7,152 376.4,151.9 377.1,151.9 377.8,151.9 378.5,151.9 379.2,151.8 379.9,151.7 380.6,151.7 381.3,151.6 382,151.4 382.7,151.3 383.4,151.1 384.1,150.8 384.8,150.5 385.5,150.1 386.2,149.6 386.9,149 387.6,148.3 388.3,147.4 389,146.4 389.7,145.2 390.4,143.9 391.1,142.2 391.8,140.4 392.5,138.2 393.2,135.8 393.9,135.4 394.6,136.6 395.3,137.8 396,138.9 396.7,140 397.4,140.9 398.1,141.9 398.8,142.7 399.5,143.5 400.2,144.3 400.9,145 401.6,145.6 402.3,146.2 403,146.8 403.7,147.3 404.4,147.7 405.1,148.2 405.8,148.6 406.5,148.9 407.2,149.3 407.9,149.6 408.6,149.8 409.3,150.1 410,150.3 410.7,150.5 411.4,150.7 412.1,150.8 412.8,151 413.5,151.1 414.2,151.2 414.9,151.3 415.6,151.4 416.3,151.5 417,151.5 417.7,151.6 418.4,151.7 419.1,151.7 419.8,151.7 420.5,151.8 421.2,151.8 421.9,151.8 422.6,151.9 423.3,151.9 424,151.9 424.7,151.9 425.4,151.9 426.1,151.9 426.8,151.9 427.5,152 428.2,152 428.9,152 429.6,152 430.3,152 431,152 431.7,152 432.4,152 433.1,152 433.8,152 434.5,152 435.2,152 435.9,152 436.6,152 437.3,152 438,152 438.7,152 439.4,152 440.1,152 440.8,152 441.5,152 442.2,152 442.9,152 443.6,152 444.3,152 445,152 445.7,152 446.4,152 447.1,152 447.8,152 448.5,152 449.2,152 449.9,152 450.6,152 451.3,152 452,152 452,152" fill="#fc9cfb" />
<polyline points="246.2,98.4 246.9,95.6 247.6,92.7 248.3,89.9 249,87.2 249.7,84.5 250.4,81.9 251.1,79.4 251.8,77 252.5,74.8 253.2,72.8 253.9,70.9 254.6,69.2 255.3,67.7 256,66.5 256.7,65.4 257.4,64.6 258.1,64.1 258.8,63.8 259.5,63.7 260.2,63.9 260.9,64.4 261.6,65.1 262.3,66 263,67.2 263.7,68.5 264.4,70.1 265.1,71.9 265.8,73.9 266.5,76.1 267.2,78.4 267.9,80.8 268.6,83.4 269.3,86 270,88.7 270.7,91.5 271.4,94.4 272.1,97.2 272.8,100.1 273.5,102.9 274.2,105.8 274.9,108.5 275.6,111.3 276.3,114 277,116.6 277.7,119.1 278.4,121.5 279.1,123.8 279.8,126 280.5,128.2 281.2,130.2 281.9,132.1 282.6,133.8 283.3,135.5 284,137.1 284.7,138.5 285.4,139.9 286.1,141.1 286.8,142.2 287.5,143.3 288.2,144.3 288.9,145.1 289.6,145.9 290.3,146.6 291,147.3 291.7,147.9 292.4,148.4 293.1,148.8 293.8,149.2 294.5,149.6 295.2,149.9 295.9,150.2 296.6,150.5 297.3,150.7 298,150.9 298.7,151 299.4,151.2 300.1,151.3 300.8,151.4 301.5,151.5 302.2,151.6 302.9,151.7 303.6,151.7 304.3,151.8 305,151.8 305.7,151.8 306.4,151.9 307.1,151.9 307.8,151.9 308.5,151.9 309.2,151.9 309.9,151.9 310.6,152 311.3,152 312,152 312.7,152 313.4,152 314.1,152 314.8,152 315.5,152 316.2,152 316.9,152 317.6,152 318.3,152 319,152 319.7,152 320.4,152 321.1,152 321.8,152 322.5,152 323.2,152 323.9,152 324.6,152 325.3,152 326,152 326.7,152 327.4,152 328.1,152 328.8,152 329.5,152 330.2,152 330.9,152 331.6,152 332.3,152 333,152 333.7,152 334.4,152 335.1,152 335.8,152 336.5,152 337.2,152 337.9,152 338.6,152 339.3,152 340,152 340.7,152 341.4,152 342.1,152 342.8,152 343.5,152 344.2,152 344.9,152 345.6,152 346.3,152 347,152 347.7,152 348.4,152 349.1,152 349.8,152 350.5,152 351.2,152 351.9,152 352.6,152 353.3,152 354,152 354.7,152 355.4,152 356.1,152 356.8,152 357.5,152 358.2,152 358.9,152 359.6,152 360.3,152 361,152 361.7,152 362.4,152 363.1,152 363.8,152 364.5,152 365.2,152 365.9,152 366.6,152 367.3,152 368,152 368.7,152 369.4,152 370.1,152 370.8,152 371.5,152 372.2,152 372.9,152 373.6,152 374.3,152 375,152 375.7,152 376.4,152 377.1,152 377.8,152 378.5,152 379.2,152 379.9,152 380.6,152 381.3,152 382,152 382.7,152 383.4,152 384.1,152 384.8,152 385.5,152 386.2,152 386.9,152 387.6,152 388.3,152 389,152 389.7,152 390.4,152 391.1,152 391.8,152 392.5,152 393.2,152 393.9,152 394.6,152 395.3,152 396,152 396.7,152 397.4,152 398.1,152 398.8,152 399.5,152 400.2,152 400.9,152 401.6,152 402.3,152 403,152 403.7,152 404.4,152 405.1,152 405.8,152 406.5,152 407.2,152 407.9,152 408.6,152 409.3,152 410,152 410.7,152 411.4,152 412.1,152 412.8,152 413.5,152 414.2,152 414.9,152 415.6,152 416.3,152 417,152 417.7,152 418.4,152 419.1,152 419.8,152 420.5,152 421.2,152 421.9,152 422.6,152 423.3,152 424,152 424.7,152 425.4,152 426.1,152 426.8,152 427.5,152 428.2,152 428.9,152 429.6,152 430.3,152 431,152 431.7,152 432.4,152 433.1,152 433.8,152 434.5,152 435.2,152 435.9,152 436.6,152 437.3,152 438,152 438.7,152 439.4,152 440.1,152 440.8,152 441.5,152 442.2,152 442.9,152 443.6,152 444.3,152 445,152 445.7,152 446.4,152 447.1,152 447.8,152 448.5,152 449.2,152 449.9,152 450.6,152 451.3,152 452,152" fill="none" stroke="#c2e282" stroke-width="0.6" stroke-linejoin="round" />
<polyline points="246.2,151.9 246.9,151.9 247.6,151.8 248.3,151.8 249,151.8 249.7,151.7 250.4,151.7 251.1,151.6 251.8,151.6 252.5,151.5 253.2,151.4 253.9,151.4 254.6,151.3 255.3,151.2 256,151 256.7,150.9 257.4,150.8 258.1,150.6 258.8,150.4 259.5,150.2 260.2,150 260.9,149.7 261.6,149.4 262.3,149.1 263,148.8 263.7,148.4 264.4,148 265.1,147.5 265.8,147 266.5,146.5 267.2,145.9 267.9,145.2 268.6,144.5 269.3,143.8 270,143 270.7,142.1 271.4,141.2 272.1,140.2 272.8,139.1 273.5,138 274.2,136.8 274.9,135.5 275.6,134.1 276.3,132.7 277,131.2 277.7,129.6 278.4,128 279.1,126.3 279.8,124.5 280.5,122.7 281.2,120.7 281.9,118.8 282.6,116.7 283.3,114.6 284,112.5 284.7,110.3 285.4,108.1 286.1,105.8 286.8,103.6 287.5,101.3 288.2,99 288.9,96.7 289.6,94.4 290.3,92.2 291,90 291.7,87.8 292.4,85.6 293.1,83.6 293.8,81.6 294.5,79.6 295.2,77.8 295.9,76.1 296.6,74.5 297.3,72.9 298,71.6 298.7,70.3 299.4,69.2 300.1,68.2 300.8,67.4 301.5,66.7 302.2,66.2 302.9,65.9 303.6,65.7 304.3,65.7 305,65.9 305.7,66.2 306.4,66.7 307.1,67.3 307.8,68.1 308.5,69 309.2,70.1 309.9,71.4 310.6,72.7 311.3,74.2 312,75.8 312.7,77.6 313.4,79.4 314.1,81.3 314.8,83.3 315.5,85.3 316.2,87.5 316.9,89.6 317.6,91.9 318.3,94.1 319,96.4 319.7,98.7 320.4,101 321.1,103.2 321.8,105.5 322.5,107.8 323.2,110 323.9,112.2 324.6,114.3 325.3,116.4 326,118.5 326.7,120.5 327.4,122.4 328.1,124.2 328.8,126 329.5,127.8 330.2,129.4 330.9,131 331.6,132.5 332.3,133.9 333,135.3 333.7,136.6 334.4,137.8 335.1,139 335.8,140 336.5,141 337.2,142 337.9,142.9 338.6,143.7 339.3,144.4 340,145.1 340.7,145.8 341.4,146.4 342.1,146.9 342.8,147.4 343.5,147.9 344.2,148.3 344.9,148.7 345.6,149.1 346.3,149.4 347,149.7 347.7,149.9 348.4,150.2 349.1,150.4 349.8,150.6 350.5,150.7 351.2,150.9 351.9,151 352.6,151.1 353.3,151.3 354,151.3 354.7,151.4 355.4,151.5 356.1,151.6 356.8,151.6 357.5,151.7 358.2,151.7 358.9,151.8 359.6,151.8 360.3,151.8 361,151.8 361.7,151.9 362.4,151.9 363.1,151.9 363.8,151.9 364.5,151.9 365.2,151.9 365.9,152 366.6,152 367.3,152 368,152 368.7,152 369.4,152 370.1,152 370.8,152 371.5,152 372.2,152 372.9,152 373.6,152 374.3,152 375,152 375.7,152 376.4,152 377.1,152 377.8,152 378.5,152 379.2,152 379.9,152 380.6,152 381.3,152 382,152 382.7,152 383.4,152 384.1,152 384.8,152 385.5,152 386.2,152 386.9,152 387.6,152 388.3,152 389,152 389.7,152 390.4,152 391.1,152 391.8,152 392.5,152 393.2,152 393.9,152 394.6,152 395.3,152 396,152 396.7,152 397.4,152 398.1,152 398.8,152 399.5,152 400.2,152 400.9,152 401.6,152 402.3,152 403,152 403.7,152 404.4,152 405.1,152 405.8,152 406.5,152 407.2,152 407.9,152 408.6,152 409.3,152 410,152 410.7,152 411.4,152 412.1,152 412.8,152 413.5,152 414.2,152 414.9,152 415.6,152 416.3,152 417,152 417.7,152 418.4,152 419.1,152 419.8,152 420.5,152 421.2,152 421.9,152 422.6,152 423.3,152 424,152 424.7,152 425.4,152 426.1,152 426.8,152 427.5,152 428.2,152 428.9,152 429.6,152 430.3,152 431,152 431.7,152 432.4,152 433.1,152 433.8,152 434.5,152 435.2,152 435.9,152 436.6,152 437.3,152 438,152 438.7,152 439.4,152 440.1,152 440.8,152 441.5,152 442.2,152 442.9,152 443.6,152 444.3,152 445,152 445.7,152 446.4,152 447.1,152 447.8,152 448.5,152 449.2,152 449.9,152 450.6,152 451.3,152 452,152" fill="none" stroke="#cfc56a" stroke-width="0.7" stroke-linejoin="round" />
<polyline points="246.2,152 246.9,152 247.6,152 248.3,152 249,152 249.7,152 250.4,152 251.1,152 251.8,152 252.5,152 253.2,152 253.9,152 254.6,152 255.3,152 256,152 256.7,152 257.4,152 258.1,152 258.8,152 259.5,152 260.2,152 260.9,152 261.6,152 262.3,152 263,152 263.7,152 264.4,152 265.1,152 265.8,152 266.5,152 267.2,152 267.9,152 268.6,152 269.3,152 270,152 270.7,152 271.4,152 272.1,152 272.8,152 273.5,152 274.2,152 274.9,152 275.6,152 276.3,152 277,152 277.7,152 278.4,152 279.1,152 279.8,152 280.5,152 281.2,152 281.9,152 282.6,152 283.3,152 284,152 284.7,152 285.4,152 286.1,152 286.8,152 287.5,152 288.2,152 288.9,152 289.6,152 290.3,152 291,152 291.7,152 292.4,152 293.1,152 293.8,152 294.5,152 295.2,152 295.9,152 296.6,152 297.3,152 298,152 298.7,152 299.4,152 300.1,152 300.8,152 301.5,152 302.2,152 302.9,152 303.6,152 304.3,152 305,152 305.7,152 306.4,152 307.1,152 307.8,151.9 308.5,151.9 309.2,151.9 309.9,151.9 310.6,151.9 311.3,151.9 312,151.9 312.7,151.8 313.4,151.8 314.1,151.8 314.8,151.7 315.5,151.7 316.2,151.6 316.9,151.6 317.6,151.5 318.3,151.4 319,151.4 319.7,151.3 320.4,151.2 321.1,151.1 321.8,150.9 322.5,150.8 323.2,150.6 323.9,150.4 324.6,150.2 325.3,150 326,149.7 326.7,149.5 327.4,149.2 328.1,148.8 328.8,148.5 329.5,148.1 330.2,147.6 330.9,147.1 331.6,146.6 332.3,146 333,145.4 333.7,144.8 334.4,144.1 335.1,143.3 335.8,142.5 336.5,141.6 337.2,140.7 337.9,139.7 338.6,138.6 339.3,137.5 340,136.3 340.7,135.1 341.4,133.8 342.1,132.4 342.8,131 343.5,129.5 344.2,127.9 344.9,126.3 345.6,124.7 346.3,123 347,121.2 347.7,119.4 348.4,117.6 349.1,115.8 349.8,113.9 350.5,112 351.2,110.1 351.9,108.2 352.6,106.3 353.3,104.4 354,102.6 354.7,100.7 355.4,98.9 356.1,97.2 356.8,95.5 357.5,93.8 358.2,92.3 358.9,90.8 359.6,89.4 360.3,88.1 361,86.9 361.7,85.8 362.4,84.8 363.1,84 363.8,83.2 364.5,82.6 365.2,82.2 365.9,81.8 366.6,81.7 367.3,81.6 368,81.7 368.7,81.9 369.4,82.3 370.1,82.8 370.8,83.4 371.5,84.2 372.2,85.1 372.9,86.1 373.6,87.2 374.3,88.4 375,89.8 375.7,91.2 376.4,92.7 377.1,94.3 377.8,95.9 378.5,97.7 379.2,99.4 379.9,101.2 380.6,103.1 381.3,105 382,106.9 382.7,108.8 383.4,110.7 384.1,112.6 384.8,114.4 385.5,116.3 386.2,118.2 386.9,120 387.6,121.7 388.3,123.5 389,125.2 389.7,126.8 390.4,128.4 391.1,129.9 391.8,131.4 392.5,132.8 393.2,134.1 393.9,135.4 394.6,136.6 395.3,137.8 396,138.9 396.7,140 397.4,140.9 398.1,141.9 398.8,142.7 399.5,143.5 400.2,144.3 400.9,145 401.6,145.6 402.3,146.2 403,146.8 403.7,147.3 404.4,147.7 405.1,148.2 405.8,148.6 406.5,148.9 407.2,149.3 407.9,149.6 408.6,149.8 409.3,150.1 410,150.3 410.7,150.5 411.4,150.7 412.1,150.8 412.8,151 413.5,151.1 414.2,151.2 414.9,151.3 415.6,151.4 416.3,151.5 417,151.5 417.7,151.6 418.4,151.7 419.1,151.7 419.8,151.7 420.5,151.8 421.2,151.8 421.9,151.8 422.6,151.9 423.3,151.9 424,151.9 424.7,151.9 425.4,151.9 426.1,151.9 426.8,151.9 427.5,152 428.2,152 428.9,152 429.6,152 430.3,152 431,152 431.7,152 432.4,152 433.1,152 433.8,152 434.5,152 435.2,152 435.9,152 436.6,152 437.3,152 438,152 438.7,152 439.4,152 440.1,152 440.8,152 441.5,152 442.2,152 442.9,152 443.6,152 444.3,152 445,152 445.7,152 446.4,152 447.1,152 447.8,152 448.5,152 449.2,152 449.9,152 450.6,152 451.3,152 452,152" fill="none" stroke="#bf7fdb" stroke-width="0.5" stroke-linejoin="round" />
<polyline points="246.2,152 246.9,152 247.6,152 248.3,152 249,152 249.7,152 250.4,152 251.1,152 251.8,152 252.5,152 253.2,152 253.9,152 254.6,152 255.3,152 256,152 256.7,152 257.4,152 258.1,152 258.8,152 259.5,152 260.2,152 260.9,152 261.6,152 262.3,152 263,152 263.7,152 264.4,152 265.1,152 265.8,152 266.5,152 267.2,152 267.9,152 268.6,152 269.3,152 270,152 270.7,152 271.4,152 272.1,152 272.8,152 273.5,152 274.2,152 274.9,152 275.6,152 276.3,152 277,152 277.7,152 278.4,152 279.1,152 279.8,152 280.5,152 281.2,152 281.9,152 282.6,152 283.3,152 284,152 284.7,152 285.4,152 286.1,152 286.8,152 287.5,152 288.2,152 288.9,152 289.6,152 290.3,152 291,152 291.7,152 292.4,152 293.1,152 293.8,152 294.5,152 295.2,152 295.9,152 296.6,152 297.3,152 298,152 298.7,152 299.4,152 300.1,152 300.8,152 301.5,152 302.2,152 302.9,152 303.6,152 304.3,152 305,152 305.7,152 306.4,152 307.1,152 307.8,152 308.5,152 309.2,152 309.9,152 310.6,152 311.3,152 312,152 312.7,152 313.4,152 314.1,152 314.8,152 315.5,152 316.2,152 316.9,152 317.6,152 318.3,152 319,152 319.7,152 320.4,152 321.1,152 321.8,152 322.5,152 323.2,152 323.9,152 324.6,152 325.3,152 326,152 326.7,152 327.4,152 328.1,152 328.8,152 329.5,152 330.2,152 330.9,152 331.6,152 332.3,152 333,152 333.7,152 334.4,152 335.1,152 335.8,152 336.5,152 337.2,152 337.9,152 338.6,152 339.3,152 340,152 340.7,152 341.4,152 342.1,152 342.8,152 343.5,152 344.2,152 344.9,152 345.6,152 346.3,152 347,152 347.7,152 348.4,152 349.1,152 349.8,152 350.5,152 351.2,152 351.9,152 352.6,152 353.3,152 354,152 354.7,152 355.4,152 356.1,152 356.8,152 357.5,152 358.2,152 358.9,152 359.6,152 360.3,152 361,152 361.7,152 362.4,152 363.1,152 363.8,152 364.5,152 365.2,152 365.9,152 366.6,152 367.3,152 368,152 368.7,152 369.4,152 370.1,152 370.8,152 371.5,152 372.2,152 372.9,152 373.6,152 374.3,152 375,152 375.7,152 376.4,151.9 377.1,151.9 377.8,151.9 378.5,151.9 379.2,151.8 379.9,151.7 380.6,151.7 381.3,151.6 382,151.4 382.7,151.3 383.4,151.1 384.1,150.8 384.8,150.5 385.5,150.1 386.2,149.6 386.9,149 387.6,148.3 388.3,147.4 389,146.4 389.7,145.2 390.4,143.9 391.1,142.2 391.8,140.4 392.5,138.2 393.2,135.8 393.9,133.1 394.6,130 395.3,126.6 396,122.9 396.7,118.9 397.4,114.5 398.1,109.8 398.8,104.8 399.5,99.6 400.2,94.1 400.9,88.5 401.6,82.8 402.3,77 403,71.3 403.7,65.6 404.4,60.2 405.1,55 405.8,50.2 406.5,45.9 407.2,42 407.9,38.7 408.6,36.1 409.3,34.1 410,32.9 410.7,32.4 411.4,32.7 412.1,33.7 412.8,35.4 413.5,37.9 414.2,41 414.9,44.7 415.6,48.9 416.3,53.6 417,58.7 417.7,64.1 418.4,69.6 419.1,75.3 419.8,81.1 420.5,86.9 421.2,92.5 421.9,98 422.6,103.3 423.3,108.4 424,113.2 424.7,117.6 425.4,121.8 426.1,125.6 426.8,129.1 427.5,132.2 428.2,135.1 428.9,137.6 429.6,139.8 430.3,141.7 431,143.4 431.7,144.9 432.4,146.1 433.1,147.2 433.8,148.1 434.5,148.8 435.2,149.4 435.9,150 436.6,150.4 437.3,150.7 438,151 438.7,151.2 439.4,151.4 440.1,151.5 440.8,151.6 441.5,151.7 442.2,151.8 442.9,151.8 443.6,151.9 444.3,151.9 445,151.9 445.7,152 446.4,152 447.1,152 447.8,152 448.5,152 449.2,152 449.9,152 450.6,152 451.3,152 452,152" fill="none" stroke="#449c9c" stroke-width="0.5" stroke-linejoin="round" />
<line x1="246.20" y1="152.40" x2="452.20" y2="152.40" stroke="#dde0a0" stroke-width="0.9" />
</g>
<rect x="246.20" y="8.90" width="206.00" height="167.00" fill="none" stroke="#444" stroke-width="1.0"/>
<line x1="243.20" y1="25.60" x2="246.20" y2="25.60" stroke="#222" stroke-width="1.0" />
<line x1="243.20" y1="42.30" x2="246.20" y2="42.30" stroke="#222" stroke-width="1.0" />
<line x1="243.20" y1="59.00" x2="246.20" y2="59.00" stroke="#222" stroke-width="1.0" />
<line x1="243.20" y1="75.70" x2="246.20" y2="75.70" stroke="#222" stroke-width="1.0" />
<line x1="243.20" y1="92.40" x2="246.20" y2="92.40" stroke="#222" stroke-width="1.0" />
<line x1="243.20" y1="109.10" x2="246.20" y2="109.10" stroke="#222" stroke-width="1.0" />
<line x1="243.20" y1="125.80" x2="246.20" y2="125.80" stroke="#222" stroke-width="1.0" />
<line x1="243.20" y1="142.50" x2="246.20" y2="142.50" stroke="#222" stroke-width="1.0" />
<line x1="243.20" y1="159.20" x2="246.20" y2="159.20" stroke="#222" stroke-width="1.0" />
<line x1="243.20" y1="175.90" x2="246.20" y2="175.90" stroke="#222" stroke-width="1.0" />
<line x1="251.62" y1="175.90" x2="251.62" y2="177.90" stroke="#222" stroke-width="1.0" />
<line x1="265.00" y1="175.90" x2="265.00" y2="178.90" stroke="#222" stroke-width="1.0" />
<line x1="278.38" y1="175.90" x2="278.38" y2="177.90" stroke="#222" stroke-width="1.0" />
<line x1="291.75" y1="175.90" x2="291.75" y2="178.90" stroke="#222" stroke-width="1.0" />
<line x1="305.12" y1="175.90" x2="305.12" y2="177.90" stroke="#222" stroke-width="1.0" />
<line x1="318.50" y1="175.90" x2="318.50" y2="178.90" stroke="#222" stroke-width="1.0" />
<line x1="331.88" y1="175.90" x2="331.88" y2="177.90" stroke="#222" stroke-width="1.0" />
<line x1="345.25" y1="175.90" x2="345.25" y2="178.90" stroke="#222" stroke-width="1.0" />
<line x1="358.62" y1="175.90" x2="358.62" y2="177.90" stroke="#222" stroke-width="1.0" />
<line x1="372.00" y1="175.90" x2="372.00" y2="178.90" stroke="#222" stroke-width="1.0" />
<line x1="385.38" y1="175.90" x2="385.38" y2="177.90" stroke="#222" stroke-width="1.0" />
<line x1="398.75" y1="175.90" x2="398.75" y2="178.90" stroke="#222" stroke-width="1.0" />
<line x1="412.12" y1="175.90" x2="412.12" y2="177.90" stroke="#222" stroke-width="1.0" />
<line x1="425.50" y1="175.90" x2="425.50" y2="178.90" stroke="#222" stroke-width="1.0" />
<line x1="438.88" y1="175.90" x2="438.88" y2="177.90" stroke="#222" stroke-width="1.0" />
<line x1="452.25" y1="175.90" x2="452.25" y2="178.90" stroke="#222" stroke-width="1.0" />
<g id="b_tl0" transform="matrix(1.0444 0 0 1.0813 -11.729 -14.655)" ><text x="259.35" y="187.50" font-size="7.5" fill="#000" font-weight="bold" >960</text></g>
<g id="b_tl1" transform="matrix(1.0707 0 0 1.0404 -20.762 -7.690)" ><text x="286.10" y="187.50" font-size="7.5" fill="#000" font-weight="bold" >955</text></g>
<g id="b_tl2" transform="matrix(1.0723 0 0 1.0284 -22.971 -4.820)" ><text x="312.85" y="187.50" font-size="7.5" fill="#000" font-weight="bold" >950</text></g>
<g id="b_tl3" transform="matrix(1.0584 0 0 1.0297 -19.984 -5.019)" ><text x="339.60" y="187.50" font-size="7.5" fill="#000" font-weight="bold" >945</text></g>
<g id="b_tl4" transform="matrix(1.0492 0 0 1.0509 -18.347 -9.509)" ><text x="366.35" y="187.50" font-size="7.5" fill="#000" font-weight="bold" >940</text></g>
<g id="b_tl5" transform="matrix(1.0807 0 0 1.0267 -32.271 -4.996)" ><text x="393.10" y="187.50" font-size="7.5" fill="#000" font-weight="bold" >935</text></g>
<g id="b_tl6" transform="matrix(1.0767 0 0 1.0281 -32.596 -4.781)" ><text x="419.85" y="187.50" font-size="7.5" fill="#000" font-weight="bold" >930</text></g>
<g id="b_tl7" transform="matrix(1.0773 0 0 1.0234 -34.854 -4.126)" ><text x="446.60" y="187.50" font-size="7.5" fill="#000" font-weight="bold" >925</text></g>
<g id="b_xt" transform="matrix(0.9665 0 0 0.9329 9.748 13.383)" ><text x="305.20" y="200.10" font-size="10.5" fill="#000" font-weight="bold" >Binding Energy (eV)</text></g>
<g id="b_yl" transform="matrix(0.9742 0 0 1.0139 8.338 -1.139)" ><text x="233.80" y="92.60" font-size="11" fill="#000" font-weight="bold" text-anchor="middle" transform="rotate(-90 233.80 92.60)">Intensity (a.u)</text></g>
<g id="b_lbl" transform="matrix(1.0360 0 0 1.0323 -8.760 -0.853)" ><text x="223.00" y="22.00" font-size="19" fill="#000" font-weight="bold" >(b)</text></g>
<circle cx="257.1" cy="21.1" r="1.5" fill="#1a7070"/>
<g id="b_hdr" transform="matrix(0.9956 0 0 1.0183 0.501 -0.277)" ><text x="262.00" y="23.30" font-size="10" fill="#1a7070" font-weight="bold" >Cu 2p<tspan dy="2.5" font-size="7.5">3/2</tspan></text></g>
<g id="b_sat1" transform="matrix(1.0856 0 0 1.0419 -21.564 -2.415)" ><text x="247.70" y="46.70" font-size="7.5" fill="#72b02e" font-weight="bold" >Cu<tspan dy="-3.8" font-size="5.6">2+</tspan><tspan dy="3.8">Sat.</tspan></text></g>
<g id="b_pk1" transform="matrix(1.0169 0 0 1.0491 -4.644 -3.133)" ><text x="253.90" y="57.60" font-size="7.5" fill="#72b02e" font-weight="bold" >peak</text></g>
<g id="b_cuk" transform="matrix(1.0377 0 0 1.0779 -11.268 -4.136)" ><text x="290.10" y="61.50" font-size="7.5" fill="#aca633" font-weight="bold" >Cu 2p<tspan dy="2" font-size="5.5">3/2</tspan></text></g>
<g id="b_sat2" transform="matrix(1.0552 0 0 1.1079 -19.869 -7.231)" ><text x="353.10" y="65.90" font-size="7.5" fill="#c23ee0" font-weight="bold" >Cu<tspan dy="-3.8" font-size="5.6">2+</tspan><tspan dy="3.8">Sat.</tspan></text></g>
<g id="b_pk2" transform="matrix(1.0799 0 0 1.0389 -29.192 -2.847)" ><text x="359.30" y="77.60" font-size="7.5" fill="#c23ee0" font-weight="bold" >peak</text></g>
<g id="b_cut" transform="matrix(1.0481 0 0 1.0573 -19.871 -1.430)" ><text x="404.80" y="26.60" font-size="7.5" fill="#2a8a88" font-weight="bold" >Cu 2p<tspan dy="2" font-size="5.5">3/2</tspan></text></g>
<line x1="227.30" y1="0.00" x2="227.30" y2="5.50" stroke="#506070" stroke-width="1.0" />
<g clip-path="url(#clipC)">
<polygon points="480.4,144.4 480.4,142.7 481.1,142.5 481.8,142.4 482.5,142.2 483.2,142.1 483.9,141.9 484.6,141.7 485.3,141.5 486,141.3 486.7,141 487.4,140.8 488.1,140.5 488.8,140.3 489.5,140 490.2,139.7 490.9,139.4 491.6,139 492.3,138.7 493,138.3 493.7,137.9 494.4,137.5 495.1,137 495.8,136.6 496.5,136.1 497.2,135.6 497.9,135 498.6,134.5 499.3,133.9 500,133.3 500.7,132.6 501.4,131.9 502.1,131.2 502.8,130.5 503.5,129.8 504.2,129 504.9,128.2 505.6,127.3 506.3,126.4 507,125.5 507.7,124.6 508.4,123.6 509.1,122.6 509.8,121.6 510.5,120.5 511.2,119.4 511.9,118.3 512.6,117.2 513.3,116 514,114.8 514.7,113.5 515.4,112.2 516.1,110.9 516.8,109.6 517.5,108.2 518.2,106.9 518.9,105.5 519.6,104 520.3,102.6 521,101.1 521.7,99.6 522.4,98.1 523.1,96.6 523.8,95.1 524.5,93.5 525.2,92 525.9,90.4 526.6,88.8 527.3,87.3 528,85.7 528.7,84.1 529.4,82.5 530.1,81 530.8,79.4 531.5,77.9 532.2,76.3 532.9,74.8 533.6,73.3 534.3,71.8 535,70.4 535.7,69 536.4,67.6 537.1,66.2 537.8,64.9 538.5,63.6 539.2,62.3 539.9,61.1 540.6,59.9 541.3,58.8 542,57.7 542.7,56.7 543.4,55.8 544.1,54.8 544.8,54 545.5,53.2 546.2,52.5 546.9,51.8 547.6,51.2 548.3,50.6 549,50.1 549.7,49.7 550.4,49.4 551.1,49.1 551.8,48.9 552.5,48.8 553.2,48.7 553.9,48.7 554.6,48.8 555.3,48.9 556,49.1 556.7,49.4 557.4,49.8 558.1,50.2 558.8,50.7 559.5,51.3 560.2,51.9 560.9,52.6 561.6,53.3 562.3,54.1 563,55 563.7,55.9 564.4,56.9 565.1,57.9 565.8,59 566.5,60.1 567.2,61.3 567.9,62.5 568.6,63.8 569.3,65.1 570,66.4 570.7,67.8 571.4,69.2 572.1,70.6 572.8,72.1 573.5,73.5 574.2,75 574.9,76.6 575.6,78.1 576.3,79.6 577,81.2 577.7,82.8 578.4,84.3 579.1,85.9 579.8,87.5 580.5,89.1 581.2,90.6 581.9,92.2 582.6,93.7 583.3,95.3 584,96.8 584.7,98.3 585.4,99.8 586.1,101.3 586.8,102.8 587.5,104.2 588.2,105.7 588.9,107.1 589.6,108.4 590.3,109.8 591,111.1 591.7,112.4 592.4,113.7 593.1,114.9 593.8,116.1 594.5,117.3 595.2,118.5 595.9,119.6 596.6,120.7 597.3,121.7 598,122.8 598.7,123.8 599.4,124.7 600.1,125.7 600.8,126.6 601.5,127.4 602.2,128.3 602.9,129.1 603.6,129.9 604.3,130.6 605,131.3 605.7,132 606.4,132.7 607.1,133.3 607.8,134 608.5,134.5 609.2,135.1 609.9,135.6 610.6,136.1 611.3,136.6 612,137.1 612.7,137.5 613.4,137.9 614.1,138.3 614.8,138.7 615.5,139.1 616.2,139.4 616.9,139.7 617.6,140 618.3,140.3 619,140.6 619.7,140.8 620.4,141.1 621.1,141.3 621.8,141.5 622.5,141.7 623.2,141.9 623.9,142.1 624.6,142.3 625.3,142.4 626,142.6 626.7,142.7 627.4,142.8 628.1,142.9 628.8,143 629.5,143.2 630.2,143.2 630.9,143.3 631.6,143.4 632.3,143.5 633,143.6 633.7,143.6 634.4,143.7 635.1,143.8 635.8,143.8 636.5,143.9 637.2,143.9 637.9,143.9 638.6,144 639.3,144 640,144.1 640.7,144.1 641.4,144.1 642.1,144.1 642.8,144.2 643.5,144.2 644.2,144.2 644.9,144.2 645.6,144.2 646.3,144.3 647,144.3 647.7,144.3 648.4,144.3 649.1,144.3 649.8,144.3 650.5,144.3 651.2,144.3 651.9,144.3 652.6,144.3 653.3,144.3 654,144.4 654.7,144.4 655.4,144.4 656.1,144.4 656.8,144.4 657.5,144.4 658.2,144.4 658.9,144.4 659.6,144.4 660.3,144.4 661,144.4 661.7,144.4 662.4,144.4 663.1,144.4 663.8,144.4 664.5,144.4 665.2,144.4 665.9,144.4 666.6,144.4 667.3,144.4 668,144.4 668.7,144.4 669.4,144.4 670.1,144.4 670.8,144.4 671.5,144.4 672.2,144.4 672.9,144.4 673.6,144.4 674.3,144.4 675,144.4 675.7,144.4 676.4,144.4 677.1,144.4 677.8,144.4 678.5,144.4 679.2,144.4 679.9,144.4 680.6,144.4 681.3,144.4 681.3,144.4" fill="#ec98fc" />
<polygon points="480.4,144.4 480.4,144.4 481.1,144.4 481.8,144.4 482.5,144.4 483.2,144.4 483.9,144.4 484.6,144.4 485.3,144.4 486,144.4 486.7,144.4 487.4,144.4 488.1,144.4 488.8,144.4 489.5,144.4 490.2,144.4 490.9,144.4 491.6,144.4 492.3,144.4 493,144.4 493.7,144.4 494.4,144.4 495.1,144.4 495.8,144.4 496.5,144.4 497.2,144.4 497.9,144.4 498.6,144.4 499.3,144.4 500,144.4 500.7,144.4 501.4,144.4 502.1,144.4 502.8,144.4 503.5,144.4 504.2,144.4 504.9,144.4 505.6,144.4 506.3,144.4 507,144.4 507.7,144.4 508.4,144.4 509.1,144.4 509.8,144.4 510.5,144.4 511.2,144.4 511.9,144.4 512.6,144.4 513.3,144.4 514,144.4 514.7,144.4 515.4,144.4 516.1,144.4 516.8,144.4 517.5,144.4 518.2,144.4 518.9,144.4 519.6,144.4 520.3,144.4 521,144.4 521.7,144.4 522.4,144.4 523.1,144.4 523.8,144.4 524.5,144.4 525.2,144.4 525.9,144.4 526.6,144.4 527.3,144.4 528,144.4 528.7,144.4 529.4,144.4 530.1,144.4 530.8,144.4 531.5,144.4 532.2,144.4 532.9,144.4 533.6,144.4 534.3,144.4 535,144.4 535.7,144.4 536.4,144.4 537.1,144.4 537.8,144.4 538.5,144.4 539.2,144.4 539.9,144.4 540.6,144.4 541.3,144.4 542,144.4 542.7,144.4 543.4,144.4 544.1,144.4 544.8,144.4 545.5,144.4 546.2,144.4 546.9,144.3 547.6,144.3 548.3,144.3 549,144.3 549.7,144.3 550.4,144.3 551.1,144.3 551.8,144.2 552.5,144.2 553.2,144.2 553.9,144.1 554.6,144.1 555.3,144 556,144 556.7,143.9 557.4,143.8 558.1,143.7 558.8,143.6 559.5,143.5 560.2,143.4 560.9,143.2 561.6,143.1 562.3,142.9 563,142.7 563.7,142.5 564.4,142.2 565.1,141.9 565.8,141.6 566.5,141.2 567.2,140.9 567.9,140.4 568.6,140 569.3,139.5 570,138.9 570.7,138.3 571.4,137.6 572.1,136.9 572.8,136.1 573.5,135.3 574.2,134.4 574.9,133.4 575.6,132.4 576.3,131.3 577,130.2 577.7,128.9 578.4,127.6 579.1,126.2 579.8,124.8 580.5,123.2 581.2,121.7 581.9,120 582.6,118.3 583.3,116.5 584,114.6 584.7,112.7 585.4,110.8 586.1,108.8 586.8,106.8 587.5,104.7 588.2,102.6 588.9,100.5 589.6,98.4 590.3,96.3 591,94.2 591.7,92.2 592.4,90.1 593.1,88.1 593.8,86.2 594.5,84.3 595.2,82.5 595.9,80.8 596.6,79.2 597.3,77.6 598,76.2 598.7,74.9 599.4,73.7 600.1,72.7 600.8,71.8 601.5,71.1 602.2,70.5 602.9,70 603.6,69.7 604.3,69.6 605,69.6 605.7,69.8 606.4,70.2 607.1,70.7 607.8,71.4 608.5,72.2 609.2,73.1 609.9,74.2 610.6,75.5 611.3,76.8 612,78.3 612.7,79.9 613.4,81.5 614.1,83.3 614.8,85.1 615.5,87 616.2,89 616.9,91 617.6,93.1 618.3,95.1 619,97.2 619.7,99.3 620.4,101.4 621.1,103.5 621.8,105.6 622.5,107.6 623.2,109.7 623.9,111.6 624.6,113.6 625.3,115.4 626,117.3 626.7,119 627.4,120.7 628.1,122.3 628.8,123.9 629.5,125.4 630.2,126.8 630.9,128.2 631.6,129.5 632.3,130.7 633,131.8 633.7,132.9 634.4,133.9 635.1,134.8 635.8,135.7 636.5,136.5 637.2,137.2 637.9,137.9 638.6,138.6 639.3,139.1 640,139.7 640.7,140.2 641.4,140.6 642.1,141 642.8,141.4 643.5,141.7 644.2,142 644.9,142.3 645.6,142.6 646.3,142.8 647,143 647.7,143.2 648.4,143.3 649.1,143.4 649.8,143.6 650.5,143.7 651.2,143.8 651.9,143.9 652.6,143.9 653.3,144 654,144.1 654.7,144.1 655.4,144.1 656.1,144.2 656.8,144.2 657.5,144.2 658.2,144.3 658.9,144.3 659.6,144.3 660.3,144.3 661,144.3 661.7,144.3 662.4,144.4 663.1,144.4 663.8,144.4 664.5,144.4 665.2,144.4 665.9,144.4 666.6,144.4 667.3,144.4 668,144.4 668.7,144.4 669.4,144.4 670.1,144.4 670.8,144.4 671.5,144.4 672.2,144.4 672.9,144.4 673.6,144.4 674.3,144.4 675,144.4 675.7,144.4 676.4,144.4 677.1,144.4 677.8,144.4 678.5,144.4 679.2,144.4 679.9,144.4 680.6,144.4 681.3,144.4 681.3,144.4" fill="#f87880" />
<polygon points="480.4,144.4 480.4,144.4 481.1,144.4 481.8,144.4 482.5,144.4 483.2,144.4 483.9,144.4 484.6,144.4 485.3,144.4 486,144.4 486.7,144.4 487.4,144.4 488.1,144.4 488.8,144.4 489.5,144.4 490.2,144.4 490.9,144.4 491.6,144.4 492.3,144.4 493,144.4 493.7,144.4 494.4,144.4 495.1,144.4 495.8,144.4 496.5,144.4 497.2,144.4 497.9,144.4 498.6,144.4 499.3,144.4 500,144.4 500.7,144.4 501.4,144.4 502.1,144.4 502.8,144.4 503.5,144.4 504.2,144.4 504.9,144.4 505.6,144.4 506.3,144.4 507,144.4 507.7,144.4 508.4,144.4 509.1,144.4 509.8,144.4 510.5,144.4 511.2,144.4 511.9,144.4 512.6,144.4 513.3,144.4 514,144.4 514.7,144.4 515.4,144.4 516.1,144.4 516.8,144.4 517.5,144.4 518.2,144.4 518.9,144.4 519.6,144.4 520.3,144.4 521,144.4 521.7,144.4 522.4,144.4 523.1,144.4 523.8,144.4 524.5,144.4 525.2,144.4 525.9,144.4 526.6,144.4 527.3,144.4 528,144.4 528.7,144.4 529.4,144.4 530.1,144.4 530.8,144.4 531.5,144.4 532.2,144.4 532.9,144.4 533.6,144.4 534.3,144.4 535,144.4 535.7,144.4 536.4,144.4 537.1,144.4 537.8,144.4 538.5,144.4 539.2,144.4 539.9,144.4 540.6,144.4 541.3,144.4 542,144.4 542.7,144.4 543.4,144.4 544.1,144.4 544.8,144.4 545.5,144.4 546.2,144.4 546.9,144.3 547.6,144.3 548.3,144.3 549,144.3 549.7,144.3 550.4,144.3 551.1,144.3 551.8,144.2 552.5,144.2 553.2,144.2 553.9,144.1 554.6,144.1 555.3,144 556,144 556.7,143.9 557.4,143.8 558.1,143.7 558.8,143.6 559.5,143.5 560.2,143.4 560.9,143.2 561.6,143.1 562.3,142.9 563,142.7 563.7,142.5 564.4,142.2 565.1,141.9 565.8,141.6 566.5,141.2 567.2,140.9 567.9,140.4 568.6,140 569.3,139.5 570,138.9 570.7,138.3 571.4,137.6 572.1,136.9 572.8,136.1 573.5,135.3 574.2,134.4 574.9,133.4 575.6,132.4 576.3,131.3 577,130.2 577.7,128.9 578.4,127.6 579.1,126.2 579.8,124.8 580.5,123.2 581.2,121.7 581.9,120 582.6,118.3 583.3,116.5 584,114.6 584.7,112.7 585.4,110.8 586.1,108.8 586.8,106.8 587.5,104.7 588.2,105.7 588.9,107.1 589.6,108.4 590.3,109.8 591,111.1 591.7,112.4 592.4,113.7 593.1,114.9 593.8,116.1 594.5,117.3 595.2,118.5 595.9,119.6 596.6,120.7 597.3,121.7 598,122.8 598.7,123.8 599.4,124.7 600.1,125.7 600.8,126.6 601.5,127.4 602.2,128.3 602.9,129.1 603.6,129.9 604.3,130.6 605,131.3 605.7,132 606.4,132.7 607.1,133.3 607.8,134 608.5,134.5 609.2,135.1 609.9,135.6 610.6,136.1 611.3,136.6 612,137.1 612.7,137.5 613.4,137.9 614.1,138.3 614.8,138.7 615.5,139.1 616.2,139.4 616.9,139.7 617.6,140 618.3,140.3 619,140.6 619.7,140.8 620.4,141.1 621.1,141.3 621.8,141.5 622.5,141.7 623.2,141.9 623.9,142.1 624.6,142.3 625.3,142.4 626,142.6 626.7,142.7 627.4,142.8 628.1,142.9 628.8,143 629.5,143.2 630.2,143.2 630.9,143.3 631.6,143.4 632.3,143.5 633,143.6 633.7,143.6 634.4,143.7 635.1,143.8 635.8,143.8 636.5,143.9 637.2,143.9 637.9,143.9 638.6,144 639.3,144 640,144.1 640.7,144.1 641.4,144.1 642.1,144.1 642.8,144.2 643.5,144.2 644.2,144.2 644.9,144.2 645.6,144.2 646.3,144.3 647,144.3 647.7,144.3 648.4,144.3 649.1,144.3 649.8,144.3 650.5,144.3 651.2,144.3 651.9,144.3 652.6,144.3 653.3,144.3 654,144.4 654.7,144.4 655.4,144.4 656.1,144.4 656.8,144.4 657.5,144.4 658.2,144.4 658.9,144.4 659.6,144.4 660.3,144.4 661,144.4 661.7,144.4 662.4,144.4 663.1,144.4 663.8,144.4 664.5,144.4 665.2,144.4 665.9,144.4 666.6,144.4 667.3,144.4 668,144.4 668.7,144.4 669.4,144.4 670.1,144.4 670.8,144.4 671.5,144.4 672.2,144.4 672.9,144.4 673.6,144.4 674.3,144.4 675,144.4 675.7,144.4 676.4,144.4 677.1,144.4 677.8,144.4 678.5,144.4 679.2,144.4 679.9,144.4 680.6,144.4 681.3,144.4 681.3,144.4" fill="#fc8282" />
<line x1="480.40" y1="144.40" x2="681.30" y2="144.40" stroke="#e8409a" stroke-width="0.9" />
<polyline points="480.7,145.8 481.8,123.1 482.9,145.7 484,138.9 485.1,152.8 486.2,160.2 487.3,135.6 488.4,151.3 489.5,137.1 490.6,147.6 491.7,136.3 492.8,148 493.9,135.5 495,136.4 496.1,127.8 497.2,133.1 498.3,149.5 499.4,131.9 500.5,143.8 501.6,130.8 502.7,132.5 503.8,130.8 504.9,136 506,122.7 507.1,134.2 508.2,124.5 509.3,122.5 510.4,105.6 511.5,100.6 512.6,107.7 513.7,100.7 514.8,105.6 515.9,92.9 517,107.4 518.1,117.5 519.2,102.4 520.3,106.4 521.4,92.7 522.5,105.5 523.6,96 524.7,90.2 525.8,95.2 526.9,89.4 528,73.7 529.1,86 530.2,62.6 531.3,80.2 532.4,64.5 533.5,77.5 534.6,61 535.7,75.9 536.8,60.6 537.9,63.2 539,70.1 540.1,51.8 541.2,59.8 542.3,42.9 543.4,52.9 544.5,56.7 545.6,46.5 546.7,61.5 547.8,58.2 548.9,34.4 550,59.2 551.1,41 552.2,52.2 553.3,40.4 554.4,41.2 555.5,49 556.6,39 557.7,50.3 558.8,51.9 559.9,50.4 561,53 562.1,46.2 563.2,57.7 564.3,54.4 565.4,53.1 566.5,63.2 567.6,54.2 568.7,67.8 569.8,58.8 570.9,65 572,61.1 573.1,49.6 574.2,50.8 575.3,38 576.4,60.6 577.5,69.8 578.6,63 579.7,69.5 580.8,54.3 581.9,62.2 583,59.9 584.1,73.7 585.2,51 586.3,60.8 587.4,45 588.5,60.4 589.6,58.8 590.7,53.2 591.8,69.9 592.9,48.9 594,59.4 595.1,51.7 596.2,41.4 597.3,43.7 598.4,50.2 599.5,47 600.6,62.4 601.7,47.2 602.8,63.1 603.9,40.3 605,54.8 606.1,48.6 607.2,62.6 608.3,54.8 609.4,63.5 610.5,61.9 611.6,65.6 612.7,63.2 613.8,76.4 614.9,77.5 616,87.5 617.1,83.1 618.2,93.4 619.3,70 620.4,103.9 621.5,97.3 622.6,119.2 623.7,96 624.8,101.5 625.9,110.8 627,99.1 628.1,111 629.2,123.8 630.3,120 631.4,133 632.5,126 633.6,138.1 634.7,138.2 635.8,115.3 636.9,137.3 638,144.3 639.1,141.1 640.2,146 641.3,142.9 642.4,139.8 643.5,142.1 644.6,148.7 645.7,131.1 646.8,156.1 647.9,142.3 649,158.5 650.1,148.4 651.2,161.5 652.3,137.1 653.4,148.6 654.5,152.8 655.6,145.8 656.7,159.2 657.8,127.7 658.9,157.3 660,150.8 661.1,158 662.2,140.1 663.3,158.9 664.4,149.4 665.5,149.7 666.6,144.3 667.7,149 668.8,150.1 669.9,143.7 671,150.3 672.1,147.2 673.2,151.7 674.3,154.7 675.4,137.8 676.5,156.5 677.6,152.1 678.7,138.3 679.8,137.6 680.9,144.9" fill="none" stroke="#303030" stroke-width="0.7" stroke-linejoin="round" />
<polyline points="480.4,142.7 481.1,142.5 481.8,142.4 482.5,142.2 483.2,142.1 483.9,141.9 484.6,141.7 485.3,141.5 486,141.3 486.7,141 487.4,140.8 488.1,140.5 488.8,140.3 489.5,140 490.2,139.7 490.9,139.4 491.6,139 492.3,138.7 493,138.3 493.7,137.9 494.4,137.5 495.1,137 495.8,136.6 496.5,136.1 497.2,135.6 497.9,135 498.6,134.5 499.3,133.9 500,133.3 500.7,132.6 501.4,131.9 502.1,131.2 502.8,130.5 503.5,129.8 504.2,129 504.9,128.2 505.6,127.3 506.3,126.4 507,125.5 507.7,124.6 508.4,123.6 509.1,122.6 509.8,121.6 510.5,120.5 511.2,119.4 511.9,118.3 512.6,117.2 513.3,116 514,114.8 514.7,113.5 515.4,112.2 516.1,110.9 516.8,109.6 517.5,108.2 518.2,106.9 518.9,105.5 519.6,104 520.3,102.6 521,101.1 521.7,99.6 522.4,98.1 523.1,96.6 523.8,95.1 524.5,93.5 525.2,92 525.9,90.4 526.6,88.8 527.3,87.3 528,85.7 528.7,84.1 529.4,82.5 530.1,81 530.8,79.4 531.5,77.9 532.2,76.3 532.9,74.8 533.6,73.3 534.3,71.8 535,70.4 535.7,69 536.4,67.6 537.1,66.2 537.8,64.9 538.5,63.6 539.2,62.3 539.9,61.1 540.6,59.9 541.3,58.8 542,57.7 542.7,56.7 543.4,55.7 544.1,54.8 544.8,53.9 545.5,53.1 546.2,52.4 546.9,51.7 547.6,51 548.3,50.5 549,50 549.7,49.5 550.4,49.1 551.1,48.8 551.8,48.6 552.5,48.4 553.2,48.2 553.9,48.2 554.6,48.2 555.3,48.2 556,48.4 556.7,48.5 557.4,48.8 558.1,49 558.8,49.4 559.5,49.7 560.2,50.2 560.9,50.6 561.6,51.1 562.3,51.7 563,52.2 563.7,52.8 564.4,53.5 565.1,54.1 565.8,54.8 566.5,55.4 567.2,56.1 567.9,56.8 568.6,57.4 569.3,58.1 570,58.7 570.7,59.3 571.4,59.9 572.1,60.5 572.8,61 573.5,61.5 574.2,62 574.9,62.4 575.6,62.7 576.3,63 577,63.3 577.7,63.5 578.4,63.6 579.1,63.6 579.8,63.6 580.5,63.6 581.2,63.4 581.9,63.2 582.6,63 583.3,62.6 584,62.3 584.7,61.8 585.4,61.3 586.1,60.8 586.8,60.2 587.5,59.6 588.2,58.9 588.9,58.2 589.6,57.5 590.3,56.8 591,56.1 591.7,55.4 592.4,54.7 593.1,54 593.8,53.4 594.5,52.8 595.2,52.2 595.9,51.7 596.6,51.3 597.3,51 598,50.7 598.7,50.6 599.4,50.5 600.1,50.5 600.8,50.7 601.5,51 602.2,51.4 602.9,51.9 603.6,52.5 604.3,53.3 605,54.2 605.7,55.2 606.4,56.4 607.1,57.7 607.8,59.1 608.5,60.6 609.2,62.2 609.9,64 610.6,65.8 611.3,67.8 612,69.8 612.7,71.9 613.4,74.1 614.1,76.3 614.8,78.6 615.5,81 616.2,83.3 616.9,85.7 617.6,88.2 618.3,90.6 619,93 619.7,95.4 620.4,97.8 621.1,100.1 621.8,102.4 622.5,104.7 623.2,107 623.9,109.1 624.6,111.2 625.3,113.3 626,115.3 626.7,117.2 627.4,119 628.1,120.8 628.8,122.5 629.5,124.1 630.2,125.6 630.9,127.1 631.6,128.4 632.3,129.7 633,130.9 633.7,132.1 634.4,133.1 635.1,134.1 635.8,135.1 636.5,135.9 637.2,136.7 637.9,137.5 638.6,138.1 639.3,138.8 640,139.3 640.7,139.9 641.4,140.3 642.1,140.8 642.8,141.2 643.5,141.5 644.2,141.8 644.9,142.1 645.6,142.4 646.3,142.6 647,142.8 647.7,143 648.4,143.2 649.1,143.3 649.8,143.5 650.5,143.6 651.2,143.7 651.9,143.8 652.6,143.9 653.3,143.9 654,144 654.7,144.1 655.4,144.1 656.1,144.1 656.8,144.2 657.5,144.2 658.2,144.2 658.9,144.3 659.6,144.3 660.3,144.3 661,144.3 661.7,144.3 662.4,144.3 663.1,144.3 663.8,144.4 664.5,144.4 665.2,144.4 665.9,144.4 666.6,144.4 667.3,144.4 668,144.4 668.7,144.4 669.4,144.4 670.1,144.4 670.8,144.4 671.5,144.4 672.2,144.4 672.9,144.4 673.6,144.4 674.3,144.4 675,144.4 675.7,144.4 676.4,144.4 677.1,144.4 677.8,144.4 678.5,144.4 679.2,144.4 679.9,144.4 680.6,144.4 681.3,144.4" fill="none" stroke="#e0359c" stroke-width="1.1" stroke-linejoin="round" />
</g>
<rect x="480.40" y="7.20" width="200.90" height="171.20" fill="none" stroke="#555" stroke-width="1.0"/>
<line x1="477.40" y1="7.20" x2="480.40" y2="7.20" stroke="#555" stroke-width="1.0" />
<line x1="477.80" y1="165.70" x2="480.40" y2="165.70" stroke="#333" stroke-width="0.9" />
<line x1="477.80" y1="153.50" x2="480.40" y2="153.50" stroke="#333" stroke-width="0.9" />
<line x1="477.80" y1="141.30" x2="480.40" y2="141.30" stroke="#333" stroke-width="0.9" />
<line x1="477.80" y1="129.10" x2="480.40" y2="129.10" stroke="#333" stroke-width="0.9" />
<line x1="477.80" y1="116.90" x2="480.40" y2="116.90" stroke="#333" stroke-width="0.9" />
<line x1="477.80" y1="104.70" x2="480.40" y2="104.70" stroke="#333" stroke-width="0.9" />
<line x1="477.80" y1="92.50" x2="480.40" y2="92.50" stroke="#333" stroke-width="0.9" />
<line x1="477.80" y1="80.30" x2="480.40" y2="80.30" stroke="#333" stroke-width="0.9" />
<line x1="477.80" y1="68.10" x2="480.40" y2="68.10" stroke="#333" stroke-width="0.9" />
<line x1="477.80" y1="55.90" x2="480.40" y2="55.90" stroke="#333" stroke-width="0.9" />
<line x1="477.80" y1="43.70" x2="480.40" y2="43.70" stroke="#333" stroke-width="0.9" />
<line x1="477.80" y1="31.50" x2="480.40" y2="31.50" stroke="#333" stroke-width="0.9" />
<line x1="477.80" y1="19.30" x2="480.40" y2="19.30" stroke="#333" stroke-width="0.9" />
<line x1="480.40" y1="178.40" x2="480.40" y2="181.20" stroke="#333" stroke-width="0.9" />
<line x1="498.32" y1="178.40" x2="498.32" y2="180.40" stroke="#333" stroke-width="0.9" />
<line x1="516.25" y1="178.40" x2="516.25" y2="181.20" stroke="#333" stroke-width="0.9" />
<line x1="534.17" y1="178.40" x2="534.17" y2="180.40" stroke="#333" stroke-width="0.9" />
<line x1="552.10" y1="178.40" x2="552.10" y2="181.20" stroke="#333" stroke-width="0.9" />
<line x1="570.02" y1="178.40" x2="570.02" y2="180.40" stroke="#333" stroke-width="0.9" />
<line x1="587.95" y1="178.40" x2="587.95" y2="181.20" stroke="#333" stroke-width="0.9" />
<line x1="605.88" y1="178.40" x2="605.88" y2="180.40" stroke="#333" stroke-width="0.9" />
<line x1="623.80" y1="178.40" x2="623.80" y2="181.20" stroke="#333" stroke-width="0.9" />
<line x1="641.72" y1="178.40" x2="641.72" y2="180.40" stroke="#333" stroke-width="0.9" />
<line x1="659.65" y1="178.40" x2="659.65" y2="181.20" stroke="#333" stroke-width="0.9" />
<line x1="677.58" y1="178.40" x2="677.58" y2="180.40" stroke="#333" stroke-width="0.9" />
<g id="c_tl0" transform="matrix(1.0565 0 0 1.1093 -27.414 -20.050)" ><text x="474.95" y="190.10" font-size="7.5" fill="#000" font-weight="bold" >705</text></g>
<g id="c_tl1" transform="matrix(1.0399 0 0 1.0919 -20.882 -17.517)" ><text x="510.80" y="190.10" font-size="7.5" fill="#000" font-weight="bold" >710</text></g>
<g id="c_tl2" transform="matrix(1.0391 0 0 1.0911 -21.900 -16.878)" ><text x="546.65" y="190.10" font-size="7.5" fill="#000" font-weight="bold" >715</text></g>
<g id="c_tl3" transform="matrix(1.0456 0 0 1.0770 -27.267 -14.790)" ><text x="582.50" y="190.10" font-size="7.5" fill="#000" font-weight="bold" >720</text></g>
<g id="c_tl4" transform="matrix(1.0562 0 0 1.0842 -35.502 -16.225)" ><text x="618.35" y="190.10" font-size="7.5" fill="#000" font-weight="bold" >725</text></g>
<g id="c_tl5" transform="matrix(1.0602 0 0 1.1132 -40.007 -21.358)" ><text x="654.20" y="190.10" font-size="7.5" fill="#000" font-weight="bold" >730</text></g>
<g id="c_xt" transform="matrix(1.0010 0 0 0.9883 -1.139 1.684)" ><text x="524.60" y="201.70" font-size="10" fill="#000" font-weight="bold" >Binding Energy (eV)</text></g>
<g id="c_yl" transform="matrix(1.0448 0 0 1.0982 -18.702 -9.214)" ><text x="467.40" y="95.70" font-size="10.5" fill="#000" font-weight="bold" text-anchor="middle" transform="rotate(-90 467.40 95.70)">Intensity (a.u)</text></g>
<g id="c_lbl" transform="matrix(1.0264 0 0 1.0157 -12.884 -0.342)" ><text x="455.50" y="22.00" font-size="20" fill="#000" font-weight="bold" >(c)</text></g>
<circle cx="487.2" cy="19.5" r="1.4" fill="#8b1020"/>
<g id="c_hdr" transform="matrix(1.0140 0 0 1.0501 -7.339 -0.513)" ><text x="492.00" y="22.00" font-size="9.5" fill="#a01c5a" font-weight="bold" >Fe 2p<tspan dy="2.3" font-size="7">3/2</tspan></text></g>
<g id="c_fep" transform="matrix(0.9934 0 0 1.0431 2.970 -1.285)" ><text x="543.00" y="32.50" font-size="7.5" fill="#8030b0" font-weight="bold" >Fe 2p<tspan dy="2" font-size="5.5">3/2</tspan></text></g>
<g id="c_fer" transform="matrix(1.0260 0 0 1.0773 -15.980 -2.877)" ><text x="598.20" y="43.70" font-size="7.5" fill="#d02030" font-weight="bold" >Fe 2p<tspan dy="2" font-size="5.5">3/2</tspan></text></g>
<g clip-path="url(#clipC2)">
<polygon points="26.3,344.8 26.3,343.1 27,343.1 27.7,343.1 28.4,343.1 29.1,343.1 29.8,343.1 30.5,343.1 31.2,343 31.9,343 32.6,343 33.3,343 34,343 34.7,343 35.4,343 36.1,343 36.8,343 37.5,343 38.2,343 38.9,343 39.6,342.9 40.3,342.9 41,342.9 41.7,342.9 42.4,342.9 43.1,342.9 43.8,342.8 44.5,342.8 45.2,342.8 45.9,342.8 46.6,342.7 47.3,342.7 48,342.7 48.7,342.6 49.4,342.6 50.1,342.6 50.8,342.5 51.5,342.5 52.2,342.4 52.9,342.4 53.6,342.3 54.3,342.3 55,342.2 55.7,342.2 56.4,342.1 57.1,342 57.8,341.9 58.5,341.9 59.2,341.8 59.9,341.7 60.6,341.6 61.3,341.5 62,341.4 62.7,341.3 63.4,341.2 64.1,341 64.8,340.9 65.5,340.8 66.2,340.6 66.9,340.5 67.6,340.3 68.3,340.2 69,340 69.7,339.9 70.4,339.7 71.1,339.5 71.8,339.3 72.5,339.1 73.2,338.9 73.9,338.7 74.6,338.4 75.3,338.2 76,338 76.7,337.7 77.4,337.5 78.1,337.2 78.8,337 79.5,336.7 80.2,336.4 80.9,336.1 81.6,335.8 82.3,335.5 83,335.2 83.7,334.9 84.4,334.6 85.1,334.3 85.8,333.9 86.5,333.6 87.2,333.3 87.9,332.9 88.6,332.6 89.3,332.2 90,331.9 90.7,331.5 91.4,331.2 92.1,330.8 92.8,330.5 93.5,330.1 94.2,329.8 94.9,329.4 95.6,329 96.3,328.7 97,328.3 97.7,328 98.4,327.7 99.1,327.3 99.8,327 100.5,326.7 101.2,326.3 101.9,326 102.6,325.7 103.3,325.4 104,325.1 104.7,324.9 105.4,324.6 106.1,324.3 106.8,324.1 107.5,323.9 108.2,323.6 108.9,323.4 109.6,323.2 110.3,323 111,322.8 111.7,322.6 112.4,322.5 113.1,322.3 113.8,322.2 114.5,322 115.2,321.9 115.9,321.7 116.6,321.6 117.3,321.4 118,321.2 118.7,321 119.4,320.8 120.1,320.5 120.8,320.2 121.5,319.9 122.2,319.5 122.9,319 123.6,318.5 124.3,317.8 125,317 125.7,316.2 126.4,315.1 127.1,314 127.8,312.7 128.5,311.2 129.2,309.5 129.9,307.6 130.6,305.5 131.3,303.1 132,300.6 132.7,297.8 133.4,294.8 134.1,291.5 134.8,288.1 135.5,284.4 136.2,280.5 136.9,276.5 137.6,272.3 138.3,268 139,263.6 139.7,259.1 140.4,254.6 141.1,250.2 141.8,245.9 142.5,241.6 143.2,237.6 143.9,233.8 144.6,230.3 145.3,227 146,224.2 146.7,221.8 147.4,219.8 148.1,218.3 148.8,217.3 149.5,216.9 150.2,216.9 150.9,217.5 151.6,218.6 152.3,220.1 153,222.1 153.7,224.5 154.4,227.3 155.1,230.6 155.8,234.1 156.5,238 157.2,242.1 157.9,246.5 158.6,251 159.3,255.7 160,260.5 160.7,265.3 161.4,270.1 162.1,274.9 162.8,279.6 163.5,284.3 164.2,288.8 164.9,293.2 165.6,297.3 166.3,301.3 167,305.1 167.7,308.7 168.4,312.1 169.1,315.2 169.8,318.1 170.5,320.8 171.2,323.3 171.9,325.5 172.6,327.5 173.3,329.4 174,331.1 174.7,332.6 175.4,333.9 176.1,335.1 176.8,336.1 177.5,337.1 178.2,337.9 178.9,338.6 179.6,339.2 180.3,339.8 181,340.2 181.7,340.6 182.4,341 183.1,341.3 183.8,341.5 184.5,341.7 185.2,341.9 185.9,342.1 186.6,342.2 187.3,342.3 188,342.4 188.7,342.5 189.4,342.6 190.1,342.6 190.8,342.7 191.5,342.7 192.2,342.8 192.9,342.8 193.6,342.8 194.3,342.9 195,342.9 195.7,342.9 196.4,342.9 197.1,342.9 197.8,343 198.5,343 199.2,343 199.9,343 200.6,343 201.3,343 202,343 202.7,343 203.4,343 204.1,343 204.8,343 205.5,343.1 206.2,343.1 206.9,343.1 207.6,343.1 208.3,343.1 209,343.1 209.7,343.1 210.4,343.1 211.1,343.1 211.8,343.1 212.5,343.1 213.2,343.1 213.9,343.1 214.6,343.1 215.3,343.1 216,343.1 216.7,343.1 217.4,343.1 218.1,343.1 218.8,343.1 219.5,343.1 220.2,343.1 220.9,343.1 220.9,344.8" fill="#88c9c6" />
<polygon points="26.3,344.8 26.3,344.8 27,344.8 27.7,344.8 28.4,344.8 29.1,344.8 29.8,344.8 30.5,344.8 31.2,344.7 31.9,344.7 32.6,344.7 33.3,344.7 34,344.7 34.7,344.7 35.4,344.7 36.1,344.7 36.8,344.7 37.5,344.7 38.2,344.7 38.9,344.7 39.6,344.6 40.3,344.6 41,344.6 41.7,344.6 42.4,344.6 43.1,344.6 43.8,344.5 44.5,344.5 45.2,344.5 45.9,344.5 46.6,344.4 47.3,344.4 48,344.4 48.7,344.3 49.4,344.3 50.1,344.3 50.8,344.2 51.5,344.2 52.2,344.1 52.9,344.1 53.6,344 54.3,344 55,343.9 55.7,343.9 56.4,343.8 57.1,343.7 57.8,343.6 58.5,343.6 59.2,343.5 59.9,343.4 60.6,343.3 61.3,343.2 62,343.1 62.7,343 63.4,342.9 64.1,342.7 64.8,342.6 65.5,342.5 66.2,342.3 66.9,342.2 67.6,342 68.3,341.9 69,341.7 69.7,341.6 70.4,341.4 71.1,341.2 71.8,341 72.5,340.8 73.2,340.6 73.9,340.4 74.6,340.1 75.3,339.9 76,339.7 76.7,339.4 77.4,339.2 78.1,338.9 78.8,338.7 79.5,338.4 80.2,338.1 80.9,337.8 81.6,337.5 82.3,337.2 83,336.9 83.7,336.6 84.4,336.3 85.1,336 85.8,335.6 86.5,335.3 87.2,335 87.9,334.6 88.6,334.3 89.3,333.9 90,333.6 90.7,333.2 91.4,332.9 92.1,332.5 92.8,332.2 93.5,331.8 94.2,331.5 94.9,331.1 95.6,330.7 96.3,330.4 97,330 97.7,329.7 98.4,329.4 99.1,329 99.8,328.7 100.5,328.4 101.2,328 101.9,327.7 102.6,327.4 103.3,327.1 104,326.8 104.7,326.6 105.4,326.3 106.1,326 106.8,325.8 107.5,325.6 108.2,325.4 108.9,325.1 109.6,325 110.3,324.8 111,324.6 111.7,324.5 112.4,324.3 113.1,324.2 113.8,324.1 114.5,324 115.2,323.9 115.9,323.9 116.6,323.8 117.3,323.8 118,323.8 118.7,323.8 119.4,323.8 120.1,323.9 120.8,323.9 121.5,324 122.2,324.1 122.9,324.2 123.6,324.3 124.3,324.5 125,324.6 125.7,324.8 126.4,325 127.1,325.1 127.8,325.4 128.5,325.6 129.2,325.8 129.9,326 130.6,326.3 131.3,326.6 132,326.8 132.7,327.1 133.4,327.4 134.1,327.7 134.8,328 135.5,328.4 136.2,328.7 136.9,329 137.6,329.4 138.3,329.7 139,330 139.7,330.4 140.4,330.7 141.1,331.1 141.8,331.5 142.5,331.8 143.2,332.2 143.9,332.5 144.6,332.9 145.3,333.2 146,333.6 146.7,333.9 147.4,334.3 148.1,334.6 148.8,335 149.5,335.3 150.2,335.6 150.9,336 151.6,336.3 152.3,336.6 153,336.9 153.7,337.2 154.4,337.5 155.1,337.8 155.8,338.1 156.5,338.4 157.2,338.7 157.9,338.9 158.6,339.2 159.3,339.4 160,339.7 160.7,339.9 161.4,340.1 162.1,340.4 162.8,340.6 163.5,340.8 164.2,341 164.9,341.2 165.6,341.4 166.3,341.6 167,341.7 167.7,341.9 168.4,342 169.1,342.2 169.8,342.3 170.5,342.5 171.2,342.6 171.9,342.7 172.6,342.9 173.3,343 174,343.1 174.7,343.2 175.4,343.3 176.1,343.4 176.8,343.5 177.5,343.6 178.2,343.6 178.9,343.7 179.6,343.8 180.3,343.9 181,343.9 181.7,344 182.4,344 183.1,344.1 183.8,344.1 184.5,344.2 185.2,344.2 185.9,344.3 186.6,344.3 187.3,344.3 188,344.4 188.7,344.4 189.4,344.4 190.1,344.5 190.8,344.5 191.5,344.5 192.2,344.5 192.9,344.6 193.6,344.6 194.3,344.6 195,344.6 195.7,344.6 196.4,344.6 197.1,344.7 197.8,344.7 198.5,344.7 199.2,344.7 199.9,344.7 200.6,344.7 201.3,344.7 202,344.7 202.7,344.7 203.4,344.7 204.1,344.7 204.8,344.7 205.5,344.8 206.2,344.8 206.9,344.8 207.6,344.8 208.3,344.8 209,344.8 209.7,344.8 210.4,344.8 211.1,344.8 211.8,344.8 212.5,344.8 213.2,344.8 213.9,344.8 214.6,344.8 215.3,344.8 216,344.8 216.7,344.8 217.4,344.8 218.1,344.8 218.8,344.8 219.5,344.8 220.2,344.8 220.9,344.8 220.9,344.8" fill="#36a7a2" />
<polygon points="26.3,344.8 26.3,344.8 27,344.8 27.7,344.8 28.4,344.8 29.1,344.8 29.8,344.8 30.5,344.8 31.2,344.8 31.9,344.8 32.6,344.8 33.3,344.8 34,344.8 34.7,344.8 35.4,344.8 36.1,344.8 36.8,344.8 37.5,344.8 38.2,344.8 38.9,344.8 39.6,344.8 40.3,344.8 41,344.8 41.7,344.8 42.4,344.8 43.1,344.8 43.8,344.8 44.5,344.8 45.2,344.8 45.9,344.8 46.6,344.8 47.3,344.8 48,344.8 48.7,344.8 49.4,344.8 50.1,344.8 50.8,344.8 51.5,344.8 52.2,344.8 52.9,344.8 53.6,344.8 54.3,344.8 55,344.8 55.7,344.8 56.4,344.8 57.1,344.8 57.8,344.8 58.5,344.8 59.2,344.8 59.9,344.8 60.6,344.8 61.3,344.8 62,344.8 62.7,344.8 63.4,344.8 64.1,344.8 64.8,344.8 65.5,344.8 66.2,344.8 66.9,344.8 67.6,344.8 68.3,344.8 69,344.8 69.7,344.8 70.4,344.8 71.1,344.8 71.8,344.8 72.5,344.8 73.2,344.8 73.9,344.8 74.6,344.8 75.3,344.8 76,344.8 76.7,344.8 77.4,344.8 78.1,344.8 78.8,344.8 79.5,344.8 80.2,344.8 80.9,344.8 81.6,344.8 82.3,344.8 83,344.8 83.7,344.8 84.4,344.8 85.1,344.8 85.8,344.8 86.5,344.8 87.2,344.8 87.9,344.8 88.6,344.8 89.3,344.8 90,344.8 90.7,344.8 91.4,344.8 92.1,344.8 92.8,344.8 93.5,344.8 94.2,344.8 94.9,344.8 95.6,344.8 96.3,344.8 97,344.8 97.7,344.8 98.4,344.8 99.1,344.8 99.8,344.8 100.5,344.8 101.2,344.8 101.9,344.8 102.6,344.8 103.3,344.8 104,344.8 104.7,344.8 105.4,344.8 106.1,344.8 106.8,344.8 107.5,344.8 108.2,344.8 108.9,344.8 109.6,344.8 110.3,344.7 111,344.7 111.7,344.7 112.4,344.7 113.1,344.6 113.8,344.6 114.5,344.5 115.2,344.4 115.9,344.3 116.6,344.2 117.3,344.1 118,343.9 118.7,343.7 119.4,343.5 120.1,343.2 120.8,342.8 121.5,342.4 122.2,341.9 122.9,341.3 123.6,340.6 124.3,339.8 125,338.9 125.7,337.9 126.4,336.7 127.1,335.3 127.8,333.8 128.5,332.1 129.2,330.2 129.9,328 130.6,325.7 131.3,323.1 132,320.2 132.7,317.2 133.4,313.9 134.1,310.3 134.8,306.5 135.5,302.5 136.2,298.3 136.9,294 137.6,289.4 138.3,284.8 139,280 139.7,275.2 140.4,270.4 141.1,265.6 141.8,260.9 142.5,256.3 143.2,251.9 143.9,247.8 144.6,243.9 145.3,240.3 146,237.1 146.7,234.4 147.4,232 148.1,230.2 148.8,228.9 149.5,228.1 150.2,227.8 150.9,228 151.6,228.8 152.3,230 153,231.7 153.7,233.8 154.4,236.3 155.1,239.2 155.8,242.5 156.5,246.1 157.2,250 157.9,254.1 158.6,258.3 159.3,262.8 160,267.3 160.7,271.9 161.4,276.5 162.1,281 162.8,285.6 163.5,290 164.2,294.3 164.9,298.5 165.6,302.5 166.3,306.3 167,309.9 167.7,313.3 168.4,316.5 169.1,319.5 169.8,322.3 170.5,324.8 171.2,327.1 171.9,329.3 172.6,331.2 173.3,332.9 174,334.5 174.7,335.9 175.4,337.1 176.1,338.2 176.8,339.2 177.5,340 178.2,340.7 178.9,341.4 179.6,341.9 180.3,342.4 181,342.8 181.7,343.1 182.4,343.4 183.1,343.7 183.8,343.9 184.5,344 185.2,344.2 185.9,344.3 186.6,344.4 187.3,344.5 188,344.5 188.7,344.6 189.4,344.6 190.1,344.7 190.8,344.7 191.5,344.7 192.2,344.7 192.9,344.8 193.6,344.8 194.3,344.8 195,344.8 195.7,344.8 196.4,344.8 197.1,344.8 197.8,344.8 198.5,344.8 199.2,344.8 199.9,344.8 200.6,344.8 201.3,344.8 202,344.8 202.7,344.8 203.4,344.8 204.1,344.8 204.8,344.8 205.5,344.8 206.2,344.8 206.9,344.8 207.6,344.8 208.3,344.8 209,344.8 209.7,344.8 210.4,344.8 211.1,344.8 211.8,344.8 212.5,344.8 213.2,344.8 213.9,344.8 214.6,344.8 215.3,344.8 216,344.8 216.7,344.8 217.4,344.8 218.1,344.8 218.8,344.8 219.5,344.8 220.2,344.8 220.9,344.8 220.9,344.8" fill="#80c4c2" />
<polyline points="115.9,344.3 116.6,344.2 117.3,344.1 118,343.9 118.7,343.7 119.4,343.5 120.1,343.2 120.8,342.8 121.5,342.4 122.2,341.9 122.9,341.3 123.6,340.6 124.3,339.8 125,338.9 125.7,337.9 126.4,336.7 127.1,335.3 127.8,333.8 128.5,332.1 129.2,330.2 129.9,328 130.6,325.7 131.3,323.1 132,320.2 132.7,317.2 133.4,313.9 134.1,310.3 134.8,306.5 135.5,302.5 136.2,298.3 136.9,294 137.6,289.4 138.3,284.8 139,280 139.7,275.2 140.4,270.4 141.1,265.6 141.8,260.9 142.5,256.3 143.2,251.9 143.9,247.8 144.6,243.9 145.3,240.3 146,237.1 146.7,234.4 147.4,232 148.1,230.2 148.8,228.9 149.5,228.1 150.2,227.8 150.9,228 151.6,228.8 152.3,230 153,231.7 153.7,233.8 154.4,236.3 155.1,239.2 155.8,242.5 156.5,246.1 157.2,250 157.9,254.1 158.6,258.3 159.3,262.8 160,267.3 160.7,271.9 161.4,276.5 162.1,281 162.8,285.6 163.5,290 164.2,294.3 164.9,298.5 165.6,302.5 166.3,306.3 167,309.9 167.7,313.3 168.4,316.5 169.1,319.5 169.8,322.3 170.5,324.8 171.2,327.1 171.9,329.3 172.6,331.2 173.3,332.9 174,334.5 174.7,335.9 175.4,337.1 176.1,338.2 176.8,339.2 177.5,340 178.2,340.7 178.9,341.4 179.6,341.9 180.3,342.4 181,342.8 181.7,343.1 182.4,343.4 183.1,343.7 183.8,343.9 184.5,344 185.2,344.2 185.9,344.3" fill="none" stroke="#2f9590" stroke-width="0.7" stroke-linejoin="round" />
<polyline points="48,344.4 48.7,344.3 49.4,344.3 50.1,344.3 50.8,344.2 51.5,344.2 52.2,344.1 52.9,344.1 53.6,344 54.3,344 55,343.9 55.7,343.9 56.4,343.8 57.1,343.7 57.8,343.6 58.5,343.6 59.2,343.5 59.9,343.4 60.6,343.3 61.3,343.2 62,343.1 62.7,343 63.4,342.9 64.1,342.7 64.8,342.6 65.5,342.5 66.2,342.3 66.9,342.2 67.6,342 68.3,341.9 69,341.7 69.7,341.6 70.4,341.4 71.1,341.2 71.8,341 72.5,340.8 73.2,340.6 73.9,340.4 74.6,340.1 75.3,339.9 76,339.7 76.7,339.4 77.4,339.2 78.1,338.9 78.8,338.7 79.5,338.4 80.2,338.1 80.9,337.8 81.6,337.5 82.3,337.2 83,336.9 83.7,336.6 84.4,336.3 85.1,336 85.8,335.6 86.5,335.3 87.2,335 87.9,334.6 88.6,334.3 89.3,333.9 90,333.6 90.7,333.2 91.4,332.9 92.1,332.5 92.8,332.2 93.5,331.8 94.2,331.5 94.9,331.1 95.6,330.7 96.3,330.4 97,330 97.7,329.7 98.4,329.4 99.1,329 99.8,328.7 100.5,328.4 101.2,328 101.9,327.7 102.6,327.4 103.3,327.1 104,326.8 104.7,326.6 105.4,326.3 106.1,326 106.8,325.8 107.5,325.6 108.2,325.4 108.9,325.1 109.6,325 110.3,324.8 111,324.6 111.7,324.5 112.4,324.3 113.1,324.2 113.8,324.1 114.5,324 115.2,323.9 115.9,323.9 116.6,323.8 117.3,323.8 118,323.8 118.7,323.8 119.4,323.8 120.1,323.9 120.8,323.9 121.5,324 122.2,324.1 122.9,324.2 123.6,324.3 124.3,324.5 125,324.6 125.7,324.8 126.4,325 127.1,325.1 127.8,325.4 128.5,325.6 129.2,325.8 129.9,326 130.6,326.3 131.3,326.6 132,326.8 132.7,327.1 133.4,327.4 134.1,327.7 134.8,328 135.5,328.4 136.2,328.7 136.9,329 137.6,329.4 138.3,329.7 139,330 139.7,330.4 140.4,330.7 141.1,331.1 141.8,331.5 142.5,331.8 143.2,332.2 143.9,332.5 144.6,332.9 145.3,333.2 146,333.6 146.7,333.9 147.4,334.3 148.1,334.6 148.8,335 149.5,335.3 150.2,335.6 150.9,336 151.6,336.3 152.3,336.6 153,336.9 153.7,337.2 154.4,337.5 155.1,337.8 155.8,338.1 156.5,338.4 157.2,338.7 157.9,338.9 158.6,339.2 159.3,339.4 160,339.7 160.7,339.9 161.4,340.1 162.1,340.4 162.8,340.6 163.5,340.8 164.2,341 164.9,341.2 165.6,341.4 166.3,341.6 167,341.7 167.7,341.9 168.4,342 169.1,342.2 169.8,342.3 170.5,342.5 171.2,342.6 171.9,342.7 172.6,342.9 173.3,343 174,343.1 174.7,343.2 175.4,343.3 176.1,343.4 176.8,343.5 177.5,343.6 178.2,343.6 178.9,343.7 179.6,343.8 180.3,343.9 181,343.9 181.7,344 182.4,344 183.1,344.1 183.8,344.1 184.5,344.2 185.2,344.2 185.9,344.3 186.6,344.3 187.3,344.3 188,344.4" fill="none" stroke="#2a8a86" stroke-width="0.5" stroke-linejoin="round" />
<polyline points="26.6,341.7 28.8,340.7 31,342.1 33.2,341 35.4,340.7 37.6,342.4 39.8,340.1 42,342 44.2,340.2 46.4,340.2 48.6,340 50.8,341.7 53,340.1 55.2,341.5 57.4,339.3 59.6,339.1 61.8,339.1 64,338.7 66.2,337.9 68.4,338.9 70.6,336.9 72.8,338.3 75,336.1 77.2,336.7 79.4,334.5 81.6,333.6 83.8,332.5 86,331.7 88.2,332.7 90.4,331.7 92.6,328.7 94.8,329.6 97,327 99.2,327.6 101.4,325.9 103.6,325.3 105.8,323.4 108,322.2 110.2,323.5 112.4,321.2 114.6,322.8 116.8,322 119,321.2 121.2,319.1 123.4,318.9 125.6,316 127.8,312.6 130,307.3 132.2,300 134.4,289.9 136.6,278.4 138.8,264.6 141,251.1 143.2,237.4 145.4,226.5 147.6,219.6 149.8,216.6 152,219.5 154.2,226.4 156.4,237.6 158.6,250.8 160.8,266.2 163,280.7 165.2,294.9 167.4,307.4 169.6,317.4 171.8,324.4 174,331.7 176.2,334.7 178.4,338.6 180.6,339 182.8,341.9 185,342.4 187.2,341.3 189.4,343 191.6,341.8 193.8,343.4 196,341.9 198.2,344 200.4,342.4 202.6,344.1 204.8,342.6 207,343.8 209.2,342.1 211.4,342.7 213.6,344.1 215.8,342.1 218,343.5 220.2,342.1" fill="none" stroke="#222" stroke-width="0.6" stroke-linejoin="round" />
</g>
<rect x="26.30" y="200.30" width="194.60" height="158.00" fill="none" stroke="#222" stroke-width="1.1"/>
<line x1="25.40" y1="200.30" x2="26.30" y2="200.30" stroke="#222" stroke-width="1.1" />
<line x1="23.40" y1="208.62" x2="26.30" y2="208.62" stroke="#000" stroke-width="1.0" />
<line x1="24.40" y1="216.94" x2="26.30" y2="216.94" stroke="#000" stroke-width="1.0" />
<line x1="23.40" y1="225.26" x2="26.30" y2="225.26" stroke="#000" stroke-width="1.0" />
<line x1="24.40" y1="233.58" x2="26.30" y2="233.58" stroke="#000" stroke-width="1.0" />
<line x1="23.40" y1="241.90" x2="26.30" y2="241.90" stroke="#000" stroke-width="1.0" />
<line x1="24.40" y1="250.22" x2="26.30" y2="250.22" stroke="#000" stroke-width="1.0" />
<line x1="23.40" y1="258.54" x2="26.30" y2="258.54" stroke="#000" stroke-width="1.0" />
<line x1="24.40" y1="266.86" x2="26.30" y2="266.86" stroke="#000" stroke-width="1.0" />
<line x1="23.40" y1="275.18" x2="26.30" y2="275.18" stroke="#000" stroke-width="1.0" />
<line x1="24.40" y1="283.50" x2="26.30" y2="283.50" stroke="#000" stroke-width="1.0" />
<line x1="23.40" y1="291.82" x2="26.30" y2="291.82" stroke="#000" stroke-width="1.0" />
<line x1="24.40" y1="300.14" x2="26.30" y2="300.14" stroke="#000" stroke-width="1.0" />
<line x1="23.40" y1="308.46" x2="26.30" y2="308.46" stroke="#000" stroke-width="1.0" />
<line x1="24.40" y1="316.78" x2="26.30" y2="316.78" stroke="#000" stroke-width="1.0" />
<line x1="23.40" y1="325.10" x2="26.30" y2="325.10" stroke="#000" stroke-width="1.0" />
<line x1="24.40" y1="333.42" x2="26.30" y2="333.42" stroke="#000" stroke-width="1.0" />
<line x1="23.40" y1="341.74" x2="26.30" y2="341.74" stroke="#000" stroke-width="1.0" />
<line x1="24.40" y1="350.06" x2="26.30" y2="350.06" stroke="#000" stroke-width="1.0" />
<line x1="26.20" y1="358.30" x2="26.20" y2="361.30" stroke="#000" stroke-width="1.0" />
<line x1="40.07" y1="358.30" x2="40.07" y2="360.30" stroke="#000" stroke-width="1.0" />
<line x1="53.94" y1="358.30" x2="53.94" y2="361.30" stroke="#000" stroke-width="1.0" />
<line x1="67.81" y1="358.30" x2="67.81" y2="360.30" stroke="#000" stroke-width="1.0" />
<line x1="81.68" y1="358.30" x2="81.68" y2="361.30" stroke="#000" stroke-width="1.0" />
<line x1="95.55" y1="358.30" x2="95.55" y2="360.30" stroke="#000" stroke-width="1.0" />
<line x1="109.42" y1="358.30" x2="109.42" y2="361.30" stroke="#000" stroke-width="1.0" />
<line x1="123.29" y1="358.30" x2="123.29" y2="360.30" stroke="#000" stroke-width="1.0" />
<line x1="137.16" y1="358.30" x2="137.16" y2="361.30" stroke="#000" stroke-width="1.0" />
<line x1="151.03" y1="358.30" x2="151.03" y2="360.30" stroke="#000" stroke-width="1.0" />
<line x1="164.90" y1="358.30" x2="164.90" y2="361.30" stroke="#000" stroke-width="1.0" />
<line x1="178.77" y1="358.30" x2="178.77" y2="360.30" stroke="#000" stroke-width="1.0" />
<line x1="192.64" y1="358.30" x2="192.64" y2="361.30" stroke="#000" stroke-width="1.0" />
<line x1="206.51" y1="358.30" x2="206.51" y2="360.30" stroke="#000" stroke-width="1.0" />
<line x1="220.38" y1="358.30" x2="220.38" y2="361.30" stroke="#000" stroke-width="1.0" />
<g id="c2_tl0" transform="matrix(1.0499 0 0 1.0092 -1.617 -3.670)" ><text x="21.15" y="369.70" font-size="7.5" fill="#000" font-weight="bold" >276</text></g>
<g id="c2_tl1" transform="matrix(1.0602 0 0 1.0072 -3.470 -2.126)" ><text x="48.89" y="369.70" font-size="7.5" fill="#000" font-weight="bold" >278</text></g>
<g id="c2_tl2" transform="matrix(1.0221 0 0 1.0494 -2.064 -18.201)" ><text x="76.63" y="369.70" font-size="7.5" fill="#000" font-weight="bold" >280</text></g>
<g id="c2_tl3" transform="matrix(1.0350 0 0 1.0589 -4.151 -21.404)" ><text x="104.37" y="369.70" font-size="7.5" fill="#000" font-weight="bold" >282</text></g>
<g id="c2_tl4" transform="matrix(1.0004 0 0 1.0284 -0.318 -10.027)" ><text x="132.11" y="369.70" font-size="7.5" fill="#000" font-weight="bold" >284</text></g>
<g id="c2_tl5" transform="matrix(1.0430 0 0 1.0425 -7.404 -15.423)" ><text x="159.85" y="369.70" font-size="7.5" fill="#000" font-weight="bold" >286</text></g>
<g id="c2_tl6" transform="matrix(1.0232 0 0 1.0564 -4.697 -20.789)" ><text x="187.59" y="369.70" font-size="7.5" fill="#000" font-weight="bold" >288</text></g>
<g id="c2_tl7" transform="matrix(1.0365 0 0 1.0185 -8.337 -6.560)" ><text x="215.33" y="369.70" font-size="7.5" fill="#000" font-weight="bold" >290</text></g>
<g id="c2_xt" transform="matrix(0.9871 0 0 1.0364 0.287 -13.955)" ><text x="74.00" y="381.40" font-size="10.5" fill="#000" font-weight="bold" >Binding Energy (eV)</text></g>
<g id="c2_yl" transform="matrix(1.1043 0 0 1.0566 0.832 -15.683)" ><text x="15.00" y="279.75" font-size="10" fill="#000" font-weight="bold" text-anchor="middle" transform="rotate(-90 15.00 279.75)">Intensity (a.u)</text></g>
<g id="c2_lbl" transform="matrix(1.0548 0 0 1.0317 -0.994 -7.614)" ><text x="1.00" y="212.00" font-size="19" fill="#000" font-weight="bold" >(c)</text></g>
<circle cx="35.0" cy="212.2" r="1.3" fill="#1c7474"/>
<g id="c2_h" transform="matrix(1.0020 0 0 0.9607 -0.576 8.509)" ><text x="39.80" y="214.60" font-size="9" fill="#1c7474" font-weight="bold" >C 1s</text></g>
<g id="c2_p" transform="matrix(0.9994 0 0 1.0494 -0.380 -10.837)" ><text x="144.80" y="214.70" font-size="9" fill="#1c7474" font-weight="bold" >C 1s</text></g>
<g clip-path="url(#clipD)">
<polygon points="256,347.9 256,346.5 256.7,346.5 257.4,346.5 258.1,346.5 258.8,346.5 259.5,346.5 260.2,346.5 260.9,346.5 261.6,346.5 262.3,346.5 263,346.5 263.7,346.5 264.4,346.5 265.1,346.5 265.8,346.5 266.5,346.5 267.2,346.5 267.9,346.5 268.6,346.5 269.3,346.5 270,346.5 270.7,346.5 271.4,346.5 272.1,346.5 272.8,346.5 273.5,346.5 274.2,346.5 274.9,346.5 275.6,346.5 276.3,346.5 277,346.5 277.7,346.5 278.4,346.5 279.1,346.5 279.8,346.5 280.5,346.5 281.2,346.5 281.9,346.5 282.6,346.5 283.3,346.5 284,346.5 284.7,346.5 285.4,346.5 286.1,346.5 286.8,346.5 287.5,346.5 288.2,346.5 288.9,346.5 289.6,346.5 290.3,346.5 291,346.5 291.7,346.5 292.4,346.5 293.1,346.5 293.8,346.5 294.5,346.5 295.2,346.5 295.9,346.5 296.6,346.5 297.3,346.5 298,346.5 298.7,346.5 299.4,346.5 300.1,346.5 300.8,346.5 301.5,346.5 302.2,346.5 302.9,346.5 303.6,346.5 304.3,346.5 305,346.5 305.7,346.5 306.4,346.5 307.1,346.5 307.8,346.5 308.5,346.5 309.2,346.5 309.9,346.5 310.6,346.5 311.3,346.5 312,346.5 312.7,346.5 313.4,346.5 314.1,346.5 314.8,346.5 315.5,346.5 316.2,346.5 316.9,346.5 317.6,346.5 318.3,346.5 319,346.5 319.7,346.5 320.4,346.5 321.1,346.5 321.8,346.5 322.5,346.5 323.2,346.5 323.9,346.5 324.6,346.4 325.3,346.3 326,346.1 326.7,345.9 327.4,345.7 328.1,345.5 328.8,345.2 329.5,344.9 330.2,344.5 330.9,344.1 331.6,343.7 332.3,343.2 333,342.6 333.7,342 334.4,341.3 335.1,340.6 335.8,339.7 336.5,338.8 337.2,337.8 337.9,336.7 338.6,335.5 339.3,334.2 340,332.8 340.7,331.3 341.4,329.7 342.1,327.9 342.8,326.1 343.5,324.1 344.2,321.9 344.9,319.7 345.6,317.3 346.3,314.8 347,312.2 347.7,309.5 348.4,306.6 349.1,303.7 349.8,300.6 350.5,297.4 351.2,294.2 351.9,290.9 352.6,287.5 353.3,284.1 354,280.6 354.7,277.1 355.4,273.7 356.1,270.2 356.8,266.8 357.5,263.4 358.2,260.1 358.9,256.8 359.6,253.7 360.3,250.7 361,247.9 361.7,245.2 362.4,242.7 363.1,240.4 363.8,238.4 364.5,236.5 365.2,234.9 365.9,233.5 366.6,232.5 367.3,231.6 368,231.1 368.7,230.8 369.4,230.8 370.1,231.1 370.8,231.5 371.5,232.2 372.2,233 372.9,234.1 373.6,235.3 374.3,236.8 375,238.4 375.7,240.2 376.4,242.2 377.1,244.3 377.8,246.6 378.5,249 379.2,251.5 379.9,254.1 380.6,256.9 381.3,259.7 382,262.5 382.7,265.5 383.4,268.4 384.1,271.4 384.8,274.5 385.5,277.5 386.2,280.5 386.9,283.6 387.6,286.5 388.3,289.5 389,292.4 389.7,295.3 390.4,298.1 391.1,300.8 391.8,303.5 392.5,306.1 393.2,308.6 393.9,311 394.6,313.4 395.3,315.6 396,317.8 396.7,319.8 397.4,321.8 398.1,323.6 398.8,325.4 399.5,327.1 400.2,328.6 400.9,330.1 401.6,331.5 402.3,332.8 403,334.1 403.7,335.2 404.4,336.3 405.1,337.3 405.8,338.2 406.5,339 407.2,339.8 407.9,340.5 408.6,341.2 409.3,341.8 410,342.4 410.7,342.9 411.4,343.3 412.1,343.8 412.8,344.1 413.5,344.5 414.2,344.8 414.9,345.1 415.6,345.3 416.3,345.6 417,345.8 417.7,346 418.4,346.1 419.1,346.3 419.8,346.4 420.5,346.5 421.2,346.5 421.9,346.5 422.6,346.5 423.3,346.5 424,346.5 424.7,346.5 425.4,346.5 426.1,346.5 426.8,346.5 427.5,346.5 428.2,346.5 428.9,346.5 429.6,346.5 430.3,346.5 431,346.5 431.7,346.5 432.4,346.5 433.1,346.5 433.8,346.5 434.5,346.5 435.2,346.5 435.9,346.5 436.6,346.5 437.3,346.5 438,346.5 438.7,346.5 439.4,346.5 440.1,346.5 440.8,346.5 441.5,346.5 442.2,346.5 442.9,346.5 443.6,346.5 444.3,346.5 445,346.5 445.7,346.5 446.4,346.5 447.1,346.5 447.8,346.5 448.5,346.5 449.2,346.5 449.9,346.5 449.9,347.9" fill="#fcbc7c" />
<polyline points="256,347.3 256.7,347.3 257.4,347.3 258.1,347.3 258.8,347.3 259.5,347.3 260.2,347.3 260.9,347.3 261.6,347.3 262.3,347.3 263,347.3 263.7,347.3 264.4,347.3 265.1,347.3 265.8,347.3 266.5,347.3 267.2,347.3 267.9,347.3 268.6,347.3 269.3,347.3 270,347.3 270.7,347.3 271.4,347.3 272.1,347.3 272.8,347.3 273.5,347.3 274.2,347.3 274.9,347.3 275.6,347.3 276.3,347.3 277,347.3 277.7,347.3 278.4,347.3 279.1,347.3 279.8,347.3 280.5,347.3 281.2,347.3 281.9,347.3 282.6,347.3 283.3,347.3 284,347.3 284.7,347.3 285.4,347.3 286.1,347.3 286.8,347.3 287.5,347.3 288.2,347.3 288.9,347.3 289.6,347.3 290.3,347.3 291,347.3 291.7,347.3 292.4,347.3 293.1,347.3 293.8,347.3 294.5,347.3 295.2,347.3 295.9,347.3 296.6,347.3 297.3,347.3 298,347.3 298.7,347.3 299.4,347.3 300.1,347.3 300.8,347.3 301.5,347.3 302.2,347.3 302.9,347.3 303.6,347.3 304.3,347.3 305,347.3 305.7,347.3 306.4,347.3 307.1,347.3 307.8,347.3 308.5,347.3 309.2,347.3 309.9,347.3 310.6,347.3 311.3,347.3 312,347.3 312.7,347.3 313.4,347.2 314.1,347.2 314.8,347.2 315.5,347.2 316.2,347.2 316.9,347.2 317.6,347.1 318.3,347.1 319,347.1 319.7,347 320.4,347 321.1,346.9 321.8,346.8 322.5,346.8 323.2,346.7 323.9,346.5 324.6,346.4 325.3,346.3 326,346.1 326.7,345.9 327.4,345.7 328.1,345.5 328.8,345.2 329.5,344.9 330.2,344.5 330.9,344.1 331.6,343.7 332.3,343.2 333,342.6 333.7,342 334.4,341.3 335.1,340.6 335.8,339.7 336.5,338.8 337.2,337.8 337.9,336.7 338.6,335.5 339.3,334.2 340,332.8 340.7,331.3 341.4,329.7 342.1,327.9 342.8,326.1 343.5,324.1 344.2,321.9 344.9,319.7 345.6,317.3 346.3,314.8 347,312.2 347.7,309.5 348.4,306.6 349.1,303.7 349.8,300.6 350.5,297.4 351.2,294.2 351.9,290.9 352.6,287.5 353.3,284.1 354,280.6 354.7,277.1 355.4,273.7 356.1,270.2 356.8,266.8 357.5,263.4 358.2,260.1 358.9,256.8 359.6,253.7 360.3,250.7 361,247.9 361.7,245.2 362.4,242.7 363.1,240.4 363.8,238.4 364.5,236.5 365.2,234.9 365.9,233.5 366.6,232.5 367.3,231.6 368,231.1 368.7,230.8 369.4,230.8 370.1,231.1 370.8,231.5 371.5,232.2 372.2,233 372.9,234.1 373.6,235.3 374.3,236.8 375,238.4 375.7,240.2 376.4,242.2 377.1,244.3 377.8,246.6 378.5,249 379.2,251.5 379.9,254.1 380.6,256.9 381.3,259.7 382,262.5 382.7,265.5 383.4,268.4 384.1,271.4 384.8,274.5 385.5,277.5 386.2,280.5 386.9,283.6 387.6,286.5 388.3,289.5 389,292.4 389.7,295.3 390.4,298.1 391.1,300.8 391.8,303.5 392.5,306.1 393.2,308.6 393.9,311 394.6,313.4 395.3,315.6 396,317.8 396.7,319.8 397.4,321.8 398.1,323.6 398.8,325.4 399.5,327.1 400.2,328.6 400.9,330.1 401.6,331.5 402.3,332.8 403,334.1 403.7,335.2 404.4,336.3 405.1,337.3 405.8,338.2 406.5,339 407.2,339.8 407.9,340.5 408.6,341.2 409.3,341.8 410,342.4 410.7,342.9 411.4,343.3 412.1,343.8 412.8,344.1 413.5,344.5 414.2,344.8 414.9,345.1 415.6,345.3 416.3,345.6 417,345.8 417.7,346 418.4,346.1 419.1,346.3 419.8,346.4 420.5,346.5 421.2,346.6 421.9,346.7 422.6,346.8 423.3,346.8 424,346.9 424.7,347 425.4,347 426.1,347 426.8,347.1 427.5,347.1 428.2,347.1 428.9,347.2 429.6,347.2 430.3,347.2 431,347.2 431.7,347.2 432.4,347.2 433.1,347.2 433.8,347.3 434.5,347.3 435.2,347.3 435.9,347.3 436.6,347.3 437.3,347.3 438,347.3 438.7,347.3 439.4,347.3 440.1,347.3 440.8,347.3 441.5,347.3 442.2,347.3 442.9,347.3 443.6,347.3 444.3,347.3 445,347.3 445.7,347.3 446.4,347.3 447.1,347.3 447.8,347.3 448.5,347.3 449.2,347.3 449.9,347.3" fill="none" stroke="#d98c48" stroke-width="0.6" stroke-linejoin="round" />
<polyline points="256.3,346.5 257.1,346.5 257.9,346.5 258.7,346.5 259.5,346.5 260.3,346.5 261.1,346.5 261.9,346.5 262.7,346.5 263.5,346.5 264.3,346.5 265.1,346.5 265.9,346.5 266.7,346.5 267.5,346.5 268.3,346.5 269.1,346.5 269.9,346.5 270.7,346.5 271.5,346.5 272.3,346.5 273.1,346.5 273.9,346.5 274.7,346.5 275.5,346.5 276.3,346.5 277.1,346.5 277.9,346.5 278.7,346.5 279.5,346.5 280.3,346.5 281.1,346.5 281.9,346.5 282.7,346.5 283.5,346.5 284.3,346.5 285.1,346.5 285.9,346.5 286.7,346.5 287.5,346.5 288.3,346.5 289.1,346.5 289.9,346.5 290.7,346.5 291.5,346.5 292.3,346.5 293.1,346.5 293.9,346.5 294.7,346.5 295.5,346.5 296.3,346.5 297.1,346.5 297.9,346.5 298.7,346.4 299.5,346.4 300.3,346.4 301.1,346.4 301.9,346.4 302.7,346.4 303.5,346.3 304.3,346.3 305.1,346.2 305.9,346.2 306.7,346.1 307.5,346.1 308.3,346 309.1,345.9 309.9,345.8 310.7,345.6 311.5,345.5 312.3,345.4 313.1,345.2 313.9,345 314.7,344.8 315.5,344.5 316.3,344.2 317.1,343.9 317.9,343.6 318.7,343.3 319.5,342.9 320.3,342.5 321.1,342 321.9,341.6 322.7,341.1 323.5,340.6 324.3,340 325.1,339.4 325.9,338.8 326.7,338.1 327.5,337.5 328.3,336.8 329.1,336 329.9,335.3 330.7,334.5 331.5,333.7 332.3,332.8 333.1,331.9 333.9,331 334.7,330 335.5,329 336.3,327.9 337.1,326.8 337.9,325.6 338.7,324.3 339.5,323 340.3,321.5 341.1,320 341.9,318.4 342.7,316.6 343.5,314.7 344.3,312.8 345.1,310.6 345.9,308.4 346.7,306 347.5,303.4 348.3,300.7 349.1,297.9 349.9,294.9 350.7,291.8 351.5,288.6 352.3,285.3 353.1,281.9 353.9,278.3 354.7,274.8 355.5,271.1 356.3,267.5 357.1,263.9 357.9,260.3 358.7,256.7 359.5,253.2 360.3,250.7 361.1,247.4 361.9,244.4 362.7,241.5 363.5,238.9 364.3,236.5 365.1,234.3 365.9,232.5 366.7,230.9 367.5,229.7 368.3,228.9 369.1,228.3 369.9,228.2 370.7,228.3 371.5,228.8 372.3,229.5 373.1,230.6 373.9,231.9 374.7,233.4 375.5,235.2 376.3,237.3 377.1,239.6 377.9,242.1 378.7,244.8 379.5,247.7 380.3,250.7 381.1,253.9 381.9,257.2 382.7,260.6 383.5,264.1 384.3,267.6 385.1,271.2 385.9,274.8 386.7,278.4 387.5,282 388.3,285.5 389.1,289 389.9,292.5 390.7,295.9 391.5,299.1 392.3,302.3 393.1,305.4 393.9,308.4 394.7,311.2 395.5,313.9 396.3,316.5 397.1,319 397.9,321.3 398.7,323.6 399.5,325.8 400.3,327.9 401.1,329.8 401.9,331.7 402.7,333.4 403.5,334.9 404.3,336.4 405.1,337.8 405.9,339 406.7,340.2 407.5,341.2 408.3,342.2 409.1,343.1 409.9,343.9 410.7,344.7 411.5,345.4 412.3,346 413.1,346.6 413.9,347.1 414.7,347.6 415.5,348.1 416.3,348.5 417.1,348.9 417.9,349.2 418.7,349.5 419.5,349.8 420.3,350.1 421.1,350.2 421.9,350.3 422.7,350.4 423.5,350.5 424.3,350.5 425.1,350.6 425.9,350.6 426.7,350.7 427.5,350.7 428.3,350.7 429.1,350.8 429.9,350.8 430.7,350.8 431.5,350.8 432.3,350.8 433.1,350.9 433.9,350.9 434.7,350.9 435.5,350.9 436.3,350.9 437.1,350.9 437.9,350.9 438.7,350.9 439.5,350.9 440.3,350.9 441.1,350.9 441.9,350.9 442.7,350.9 443.5,350.9 444.3,350.9 445.1,350.9 445.9,350.9 446.7,350.9 447.5,350.9 448.3,350.9 449.1,350.9 449.9,350.9" fill="none" stroke="#333" stroke-width="0.65" stroke-linejoin="round" />
</g>
<rect x="256.00" y="207.40" width="194.50" height="156.60" fill="none" stroke="#333" stroke-width="1.0"/>
<line x1="254.60" y1="207.40" x2="256.00" y2="207.40" stroke="#333" stroke-width="1.0" />
<line x1="253.00" y1="221.64" x2="256.00" y2="221.64" stroke="#333" stroke-width="1.0" />
<line x1="253.00" y1="235.88" x2="256.00" y2="235.88" stroke="#333" stroke-width="1.0" />
<line x1="253.00" y1="250.12" x2="256.00" y2="250.12" stroke="#333" stroke-width="1.0" />
<line x1="253.00" y1="264.36" x2="256.00" y2="264.36" stroke="#333" stroke-width="1.0" />
<line x1="253.00" y1="278.60" x2="256.00" y2="278.60" stroke="#333" stroke-width="1.0" />
<line x1="253.00" y1="292.84" x2="256.00" y2="292.84" stroke="#333" stroke-width="1.0" />
<line x1="253.00" y1="307.08" x2="256.00" y2="307.08" stroke="#333" stroke-width="1.0" />
<line x1="253.00" y1="321.32" x2="256.00" y2="321.32" stroke="#333" stroke-width="1.0" />
<line x1="253.00" y1="335.56" x2="256.00" y2="335.56" stroke="#333" stroke-width="1.0" />
<line x1="253.00" y1="349.80" x2="256.00" y2="349.80" stroke="#333" stroke-width="1.0" />
<line x1="253.00" y1="364.00" x2="256.00" y2="364.00" stroke="#333" stroke-width="1.0" />
<line x1="255.60" y1="364.00" x2="255.60" y2="367.00" stroke="#333" stroke-width="1.0" />
<line x1="271.20" y1="364.00" x2="271.20" y2="366.00" stroke="#333" stroke-width="1.0" />
<line x1="286.80" y1="364.00" x2="286.80" y2="367.00" stroke="#333" stroke-width="1.0" />
<line x1="302.40" y1="364.00" x2="302.40" y2="366.00" stroke="#333" stroke-width="1.0" />
<line x1="318.00" y1="364.00" x2="318.00" y2="367.00" stroke="#333" stroke-width="1.0" />
<line x1="333.60" y1="364.00" x2="333.60" y2="366.00" stroke="#333" stroke-width="1.0" />
<line x1="349.20" y1="364.00" x2="349.20" y2="367.00" stroke="#333" stroke-width="1.0" />
<line x1="364.80" y1="364.00" x2="364.80" y2="366.00" stroke="#333" stroke-width="1.0" />
<line x1="380.40" y1="364.00" x2="380.40" y2="367.00" stroke="#333" stroke-width="1.0" />
<line x1="396.00" y1="364.00" x2="396.00" y2="366.00" stroke="#333" stroke-width="1.0" />
<line x1="411.60" y1="364.00" x2="411.60" y2="367.00" stroke="#333" stroke-width="1.0" />
<line x1="427.20" y1="364.00" x2="427.20" y2="366.00" stroke="#333" stroke-width="1.0" />
<line x1="442.80" y1="364.00" x2="442.80" y2="367.00" stroke="#333" stroke-width="1.0" />
<g id="d_tl0" transform="matrix(1.0504 0 0 0.9979 -13.100 1.325)" ><text x="250.55" y="375.00" font-size="7.5" fill="#000" font-weight="bold" >522</text></g>
<g id="d_tl1" transform="matrix(1.0262 0 0 0.9749 -7.713 9.592)" ><text x="281.75" y="375.00" font-size="7.5" fill="#000" font-weight="bold" >524</text></g>
<g id="d_tl2" transform="matrix(1.0337 0 0 0.9820 -10.903 6.554)" ><text x="312.95" y="375.00" font-size="7.5" fill="#000" font-weight="bold" >526</text></g>
<g id="d_tl3" transform="matrix(1.0678 0 0 1.0144 -24.031 -4.728)" ><text x="344.15" y="375.00" font-size="7.5" fill="#000" font-weight="bold" >528</text></g>
<g id="d_tl4" transform="matrix(1.0399 0 0 0.9994 -15.560 0.254)" ><text x="375.35" y="375.00" font-size="7.5" fill="#000" font-weight="bold" >530</text></g>
<g id="d_tl5" transform="matrix(1.0420 0 0 0.9912 -17.528 3.834)" ><text x="406.55" y="375.00" font-size="7.5" fill="#000" font-weight="bold" >532</text></g>
<g id="d_tl6" transform="matrix(1.0332 0 0 0.9826 -14.969 7.221)" ><text x="437.75" y="375.00" font-size="7.5" fill="#000" font-weight="bold" >534</text></g>
<g id="d_xt" transform="matrix(0.9173 0 0 0.9524 24.333 18.554)" ><text x="298.90" y="386.10" font-size="10.5" fill="#000" font-weight="bold" >Binding Energy (eV)</text></g>
<g id="d_yl" transform="matrix(1.0783 0 0 1.0450 -16.414 -12.817)" ><text x="243.50" y="288.85" font-size="10" fill="#000" font-weight="bold" text-anchor="middle" transform="rotate(-90 243.50 288.85)">Intensity (a.u)</text></g>
<g id="d_lbl" transform="matrix(1.0737 0 0 1.0330 -17.700 -7.197)" ><text x="228.00" y="216.00" font-size="19" fill="#000" font-weight="bold" >(d)</text></g>
<circle cx="266.4" cy="221.3" r="1.4" fill="#8b1a1a"/>
<g id="d_h" transform="matrix(1.0420 0 0 0.9899 -11.888 2.771)" ><text x="270.80" y="223.30" font-size="9.5" fill="#b4601e" font-weight="bold" >O 1s</text></g>
<g id="d_p" transform="matrix(1.0297 0 0 1.0812 -11.297 -18.379)" ><text x="363.20" y="225.70" font-size="9.5" fill="#c86a20" font-weight="bold" >O 1s</text></g>
<g clip-path="url(#clipE)">
<line x1="479.60" y1="337.00" x2="680.40" y2="337.00" stroke="#f08a80" stroke-width="1.0" />
<polygon points="479.6,337.3 479.6,337 480.3,337 481,337 481.7,337 482.4,337 483.1,337 483.8,337 484.5,337 485.2,337 485.9,337 486.6,337 487.3,337 488,337 488.7,337 489.4,337 490.1,337 490.8,337 491.5,337 492.2,337 492.9,337 493.6,337 494.3,337 495,337 495.7,337 496.4,337 497.1,337 497.8,337 498.5,337 499.2,337 499.9,337 500.6,337 501.3,337 502,337 502.7,337 503.4,337 504.1,337 504.8,337 505.5,337 506.2,337 506.9,337 507.6,337 508.3,337 509,337 509.7,337 510.4,337 511.1,337 511.8,337 512.5,337 513.2,337 513.9,337 514.6,337 515.3,337 516,337 516.7,337 517.4,337 518.1,337 518.8,337 519.5,337 520.2,337 520.9,337 521.6,337 522.3,337 523,337 523.7,337 524.4,337 525.1,337 525.8,336.9 526.5,336.9 527.2,336.9 527.9,336.9 528.6,336.8 529.3,336.8 530,336.7 530.7,336.6 531.4,336.5 532.1,336.4 532.8,336.2 533.5,336 534.2,335.7 534.9,335.4 535.6,335 536.3,334.5 537,333.9 537.7,333.2 538.4,332.4 539.1,331.4 539.8,330.3 540.5,328.9 541.2,327.4 541.9,325.7 542.6,323.7 543.3,321.5 544,319 544.7,316.3 545.4,313.2 546.1,310 546.8,306.4 547.5,302.6 548.2,298.6 548.9,294.3 549.6,289.9 550.3,285.4 551,280.7 551.7,276 552.4,271.4 553.1,266.8 553.8,262.3 554.5,258.1 555.2,254.1 555.9,250.5 556.6,247.3 557.3,244.5 558,242.2 558.7,240.5 559.4,239.3 560.1,238.8 560.8,238.8 561.5,239.4 562.2,240.7 562.9,242.5 563.6,244.9 564.3,247.7 565,251 565.7,254.7 566.4,258.7 567.1,263 567.8,267.4 568.5,272 569.2,276.7 569.9,281.4 570.6,286 571.3,290.6 572,295 572.7,299.2 573.4,303.2 574.1,306.9 574.8,310.4 575.5,313.7 576.2,316.7 576.9,319.4 577.6,321.8 578.3,324 579,325.9 579.7,327.6 580.4,329.1 581.1,330.4 581.8,331.5 582.5,332.5 583.2,333.3 583.9,334 584.6,334.6 585.3,335 586,335.4 586.7,335.8 587.4,336 588.1,336.2 588.8,336.4 589.5,336.5 590.2,336.6 590.9,336.7 591.6,336.8 592.3,336.8 593,336.9 593.7,336.9 594.4,336.9 595.1,337 595.8,337 596.5,337 597.2,337 597.9,337 598.6,337 599.3,337 600,337 600.7,337 601.4,337 602.1,337 602.8,337 603.5,337 604.2,337 604.9,337 605.6,337 606.3,337 607,337 607.7,337 608.4,337 609.1,337 609.8,337 610.5,337 611.2,337 611.9,337 612.6,337 613.3,337 614,337 614.7,337 615.4,337 616.1,337 616.8,337 617.5,337 618.2,337 618.9,337 619.6,337 620.3,337 621,337 621.7,337 622.4,337 623.1,337 623.8,337 624.5,337 625.2,337 625.9,337 626.6,337 627.3,337 628,337 628.7,337 629.4,337 630.1,337 630.8,337 631.5,337 632.2,337 632.9,337 633.6,337 634.3,337 635,337 635.7,337 636.4,337 637.1,337 637.8,337 638.5,337 639.2,337 639.9,337 640.6,337 641.3,337 642,337 642.7,337 643.4,337 644.1,337 644.8,337 645.5,337 646.2,337 646.9,337 647.6,337 648.3,337 649,337 649.7,337 650.4,337 651.1,337 651.8,337 652.5,337 653.2,337 653.9,337 654.6,337 655.3,337 656,337 656.7,337 657.4,337 658.1,337 658.8,337 659.5,337 660.2,337 660.9,337 661.6,337 662.3,337 663,337 663.7,337 664.4,337 665.1,337 665.8,337 666.5,337 667.2,337 667.9,337 668.6,337 669.3,337 670,337 670.7,337 671.4,337 672.1,337 672.8,337 673.5,337 674.2,337 674.9,337 675.6,337 676.3,337 677,337 677.7,337 678.4,337 679.1,337 679.8,337 679.8,337.3" fill="#c05468" />
<polygon points="479.6,337.3 479.6,337 480.3,337 481,337 481.7,337 482.4,337 483.1,337 483.8,337 484.5,337 485.2,337 485.9,337 486.6,337 487.3,337 488,337 488.7,337 489.4,337 490.1,337 490.8,337 491.5,337 492.2,337 492.9,337 493.6,337 494.3,337 495,337 495.7,337 496.4,337 497.1,337 497.8,337 498.5,337 499.2,337 499.9,337 500.6,337 501.3,337 502,337 502.7,337 503.4,337 504.1,337 504.8,337 505.5,337 506.2,337 506.9,337 507.6,337 508.3,337 509,337 509.7,337 510.4,337 511.1,337 511.8,337 512.5,337 513.2,337 513.9,337 514.6,337 515.3,337 516,337 516.7,337 517.4,337 518.1,337 518.8,337 519.5,337 520.2,337 520.9,337 521.6,337 522.3,337 523,337 523.7,337 524.4,337 525.1,337 525.8,337 526.5,337 527.2,337 527.9,337 528.6,337 529.3,337 530,337 530.7,337 531.4,337 532.1,337 532.8,337 533.5,337 534.2,337 534.9,337 535.6,337 536.3,337 537,337 537.7,337 538.4,337 539.1,337 539.8,337 540.5,337 541.2,337 541.9,337 542.6,337 543.3,337 544,337 544.7,337 545.4,337 546.1,337 546.8,337 547.5,337 548.2,337 548.9,337 549.6,337 550.3,337 551,337 551.7,337 552.4,337 553.1,337 553.8,337 554.5,337 555.2,337 555.9,337 556.6,337 557.3,337 558,337 558.7,337 559.4,337 560.1,337 560.8,337 561.5,337 562.2,337 562.9,337 563.6,337 564.3,337 565,337 565.7,337 566.4,337 567.1,337 567.8,337 568.5,337 569.2,337 569.9,337 570.6,337 571.3,337 572,337 572.7,337 573.4,337 574.1,337 574.8,337 575.5,337 576.2,337 576.9,337 577.6,337 578.3,337 579,337 579.7,337 580.4,337 581.1,337 581.8,337 582.5,337 583.2,337 583.9,337 584.6,337 585.3,337 586,337 586.7,337 587.4,337 588.1,337 588.8,337 589.5,337 590.2,337 590.9,337 591.6,336.9 592.3,336.9 593,336.9 593.7,336.9 594.4,336.9 595.1,336.9 595.8,336.9 596.5,336.8 597.2,336.8 597.9,336.8 598.6,336.8 599.3,336.7 600,336.7 600.7,336.6 601.4,336.6 602.1,336.5 602.8,336.4 603.5,336.4 604.2,336.3 604.9,336.2 605.6,336.1 606.3,336 607,335.8 607.7,335.7 608.4,335.5 609.1,335.3 609.8,335.1 610.5,334.9 611.2,334.6 611.9,334.4 612.6,334.1 613.3,333.8 614,333.4 614.7,333 615.4,332.6 616.1,332.2 616.8,331.7 617.5,331.2 618.2,330.7 618.9,330.1 619.6,329.5 620.3,328.8 621,328.1 621.7,327.4 622.4,326.6 623.1,325.8 623.8,325 624.5,324.1 625.2,323.1 625.9,322.2 626.6,321.2 627.3,320.1 628,319.1 628.7,318 629.4,316.8 630.1,315.7 630.8,314.5 631.5,313.3 632.2,312.1 632.9,310.9 633.6,309.7 634.3,308.5 635,307.3 635.7,306.1 636.4,305 637.1,303.8 637.8,302.7 638.5,301.6 639.2,300.6 639.9,299.5 640.6,298.6 641.3,297.7 642,296.9 642.7,296.1 643.4,295.4 644.1,294.7 644.8,294.2 645.5,293.7 646.2,293.3 646.9,293 647.6,292.8 648.3,292.6 649,292.6 649.7,292.6 650.4,292.8 651.1,293 651.8,293.3 652.5,293.7 653.2,294.2 653.9,294.7 654.6,295.4 655.3,296.1 656,296.9 656.7,297.7 657.4,298.6 658.1,299.5 658.8,300.6 659.5,301.6 660.2,302.7 660.9,303.8 661.6,305 662.3,306.1 663,307.3 663.7,308.5 664.4,309.7 665.1,310.9 665.8,312.1 666.5,313.3 667.2,314.5 667.9,315.7 668.6,316.8 669.3,318 670,319.1 670.7,320.1 671.4,321.2 672.1,322.2 672.8,323.1 673.5,324.1 674.2,325 674.9,325.8 675.6,326.6 676.3,327.4 677,328.1 677.7,328.8 678.4,329.5 679.1,330.1 679.8,330.7 679.8,337.3" fill="#fca448" />
<polyline points="479.6,337 480.3,337 481,337 481.7,337 482.4,337 483.1,337 483.8,337 484.5,337 485.2,337 485.9,337 486.6,337 487.3,337 488,337 488.7,337 489.4,337 490.1,337 490.8,337 491.5,337 492.2,337 492.9,337 493.6,337 494.3,337 495,337 495.7,337 496.4,337 497.1,337 497.8,337 498.5,337 499.2,337 499.9,337 500.6,337 501.3,337 502,337 502.7,337 503.4,337 504.1,337 504.8,337 505.5,337 506.2,337 506.9,337 507.6,337 508.3,337 509,337 509.7,337 510.4,337 511.1,337 511.8,337 512.5,337 513.2,337 513.9,337 514.6,337 515.3,337 516,337 516.7,337 517.4,337 518.1,337 518.8,337 519.5,337 520.2,337 520.9,337 521.6,337 522.3,337 523,337 523.7,337 524.4,337 525.1,337 525.8,336.9 526.5,336.9 527.2,336.9 527.9,336.9 528.6,336.8 529.3,336.8 530,336.7 530.7,336.6 531.4,336.5 532.1,336.4 532.8,336.2 533.5,336 534.2,335.7 534.9,335.4 535.6,335 536.3,334.5 537,333.9 537.7,333.2 538.4,332.4 539.1,331.4 539.8,330.3 540.5,328.9 541.2,327.4 541.9,325.7 542.6,323.7 543.3,321.5 544,319 544.7,316.3 545.4,313.2 546.1,310 546.8,306.4 547.5,302.6 548.2,298.6 548.9,294.3 549.6,289.9 550.3,285.4 551,280.7 551.7,276 552.4,271.4 553.1,266.8 553.8,262.3 554.5,258.1 555.2,254.1 555.9,250.5 556.6,247.3 557.3,244.5 558,242.2 558.7,240.5 559.4,239.3 560.1,238.8 560.8,238.8 561.5,239.4 562.2,240.7 562.9,242.5 563.6,244.9 564.3,247.7 565,251 565.7,254.7 566.4,258.7 567.1,263 567.8,267.4 568.5,272 569.2,276.7 569.9,281.4 570.6,286 571.3,290.6 572,295 572.7,299.2 573.4,303.2 574.1,306.9 574.8,310.4 575.5,313.7 576.2,316.7 576.9,319.4 577.6,321.8 578.3,324 579,325.9 579.7,327.6 580.4,329.1 581.1,330.4 581.8,331.5 582.5,332.5 583.2,333.3 583.9,334 584.6,334.6 585.3,335 586,335.4 586.7,335.8 587.4,336 588.1,336.2 588.8,336.4 589.5,336.5 590.2,336.6 590.9,336.7 591.6,336.8 592.3,336.8 593,336.9 593.7,336.9 594.4,336.9 595.1,337 595.8,337 596.5,337 597.2,337 597.9,337 598.6,337 599.3,337 600,337 600.7,337 601.4,337 602.1,337 602.8,337 603.5,337 604.2,337 604.9,337 605.6,337 606.3,337 607,337 607.7,337 608.4,337 609.1,337 609.8,337 610.5,337 611.2,337 611.9,337 612.6,337 613.3,337 614,337 614.7,337 615.4,337 616.1,337 616.8,337 617.5,337 618.2,337 618.9,337 619.6,337 620.3,337 621,337 621.7,337 622.4,337 623.1,337 623.8,337 624.5,337 625.2,337 625.9,337 626.6,337 627.3,337 628,337 628.7,337 629.4,337 630.1,337 630.8,337 631.5,337 632.2,337 632.9,337 633.6,337 634.3,337 635,337 635.7,337 636.4,337 637.1,337 637.8,337 638.5,337 639.2,337 639.9,337 640.6,337 641.3,337 642,337 642.7,337 643.4,337 644.1,337 644.8,337 645.5,337 646.2,337 646.9,337 647.6,337 648.3,337 649,337 649.7,337 650.4,337 651.1,337 651.8,337 652.5,337 653.2,337 653.9,337 654.6,337 655.3,337 656,337 656.7,337 657.4,337 658.1,337 658.8,337 659.5,337 660.2,337 660.9,337 661.6,337 662.3,337 663,337 663.7,337 664.4,337 665.1,337 665.8,337 666.5,337 667.2,337 667.9,337 668.6,337 669.3,337 670,337 670.7,337 671.4,337 672.1,337 672.8,337 673.5,337 674.2,337 674.9,337 675.6,337 676.3,337 677,337 677.7,337 678.4,337 679.1,337 679.8,337" fill="none" stroke="#d04050" stroke-width="0.6" stroke-linejoin="round" />
<polyline points="479.6,337 480.3,337 481,337 481.7,337 482.4,337 483.1,337 483.8,337 484.5,337 485.2,337 485.9,337 486.6,337 487.3,337 488,337 488.7,337 489.4,337 490.1,337 490.8,337 491.5,337 492.2,337 492.9,337 493.6,337 494.3,337 495,337 495.7,337 496.4,337 497.1,337 497.8,337 498.5,337 499.2,337 499.9,337 500.6,337 501.3,337 502,337 502.7,337 503.4,337 504.1,337 504.8,337 505.5,337 506.2,337 506.9,337 507.6,337 508.3,337 509,337 509.7,337 510.4,337 511.1,337 511.8,337 512.5,337 513.2,337 513.9,337 514.6,337 515.3,337 516,337 516.7,337 517.4,337 518.1,337 518.8,337 519.5,337 520.2,337 520.9,337 521.6,337 522.3,337 523,337 523.7,337 524.4,337 525.1,337 525.8,337 526.5,337 527.2,337 527.9,337 528.6,337 529.3,337 530,337 530.7,337 531.4,337 532.1,337 532.8,337 533.5,337 534.2,337 534.9,337 535.6,337 536.3,337 537,337 537.7,337 538.4,337 539.1,337 539.8,337 540.5,337 541.2,337 541.9,337 542.6,337 543.3,337 544,337 544.7,337 545.4,337 546.1,337 546.8,337 547.5,337 548.2,337 548.9,337 549.6,337 550.3,337 551,337 551.7,337 552.4,337 553.1,337 553.8,337 554.5,337 555.2,337 555.9,337 556.6,337 557.3,337 558,337 558.7,337 559.4,337 560.1,337 560.8,337 561.5,337 562.2,337 562.9,337 563.6,337 564.3,337 565,337 565.7,337 566.4,337 567.1,337 567.8,337 568.5,337 569.2,337 569.9,337 570.6,337 571.3,337 572,337 572.7,337 573.4,337 574.1,337 574.8,337 575.5,337 576.2,337 576.9,337 577.6,337 578.3,337 579,337 579.7,337 580.4,337 581.1,337 581.8,337 582.5,337 583.2,337 583.9,337 584.6,337 585.3,337 586,337 586.7,337 587.4,337 588.1,337 588.8,337 589.5,337 590.2,337 590.9,337 591.6,336.9 592.3,336.9 593,336.9 593.7,336.9 594.4,336.9 595.1,336.9 595.8,336.9 596.5,336.8 597.2,336.8 597.9,336.8 598.6,336.8 599.3,336.7 600,336.7 600.7,336.6 601.4,336.6 602.1,336.5 602.8,336.4 603.5,336.4 604.2,336.3 604.9,336.2 605.6,336.1 606.3,336 607,335.8 607.7,335.7 608.4,335.5 609.1,335.3 609.8,335.1 610.5,334.9 611.2,334.6 611.9,334.4 612.6,334.1 613.3,333.8 614,333.4 614.7,333 615.4,332.6 616.1,332.2 616.8,331.7 617.5,331.2 618.2,330.7 618.9,330.1 619.6,329.5 620.3,328.8 621,328.1 621.7,327.4 622.4,326.6 623.1,325.8 623.8,325 624.5,324.1 625.2,323.1 625.9,322.2 626.6,321.2 627.3,320.1 628,319.1 628.7,318 629.4,316.8 630.1,315.7 630.8,314.5 631.5,313.3 632.2,312.1 632.9,310.9 633.6,309.7 634.3,308.5 635,307.3 635.7,306.1 636.4,305 637.1,303.8 637.8,302.7 638.5,301.6 639.2,300.6 639.9,299.5 640.6,298.6 641.3,297.7 642,296.9 642.7,296.1 643.4,295.4 644.1,294.7 644.8,294.2 645.5,293.7 646.2,293.3 646.9,293 647.6,292.8 648.3,292.6 649,292.6 649.7,292.6 650.4,292.8 651.1,293 651.8,293.3 652.5,293.7 653.2,294.2 653.9,294.7 654.6,295.4 655.3,296.1 656,296.9 656.7,297.7 657.4,298.6 658.1,299.5 658.8,300.6 659.5,301.6 660.2,302.7 660.9,303.8 661.6,305 662.3,306.1 663,307.3 663.7,308.5 664.4,309.7 665.1,310.9 665.8,312.1 666.5,313.3 667.2,314.5 667.9,315.7 668.6,316.8 669.3,318 670,319.1 670.7,320.1 671.4,321.2 672.1,322.2 672.8,323.1 673.5,324.1 674.2,325 674.9,325.8 675.6,326.6 676.3,327.4 677,328.1 677.7,328.8 678.4,329.5 679.1,330.1 679.8,330.7" fill="none" stroke="#e87030" stroke-width="0.6" stroke-linejoin="round" />
<polyline points="479.9,343.9 480.9,344.2 481.9,345.1 482.9,343.9 483.9,344 484.9,344.2 485.9,343.2 486.9,344 487.9,344.3 488.9,344.8 489.9,342.9 490.9,343.5 491.9,342.9 492.9,344.8 493.9,344.5 494.9,342.8 495.9,345.3 496.9,345.2 497.9,344.4 498.9,344.3 499.9,343.1 500.9,342.7 501.9,344.1 502.9,342.9 503.9,343.2 504.9,343.3 505.9,342.8 506.9,343.9 507.9,343.8 508.9,344.9 509.9,344 510.9,344.4 511.9,344 512.9,344.4 513.9,343.9 514.9,343.4 515.9,345.3 516.9,345.3 517.9,344.9 518.9,344.5 519.9,343.5 520.9,343.3 521.9,343.5 522.9,342.9 523.9,344.7 524.9,343.7 525.9,344.9 526.9,343.7 527.9,345.2 528.9,344.9 529.9,342.7 530.9,343.2 531.9,345.1 532.9,343.9 533.9,345.2 534.9,342.1 535.9,339.4 536.9,339 537.9,337.4 538.9,335.5 539.9,334.4 540.9,333.9 541.9,333.9 542.9,331 543.9,326 544.9,321.9 545.9,315.9 546.9,309.1 547.9,303.1 548.9,292.7 549.9,284.4 550.9,274.5 551.9,264.4 552.9,257.1 553.9,247.7 554.9,242.5 555.9,235.9 556.9,232.9 557.9,229.9 558.9,228.7 559.9,230 560.9,229.5 561.9,228.5 562.9,230.9 563.9,231.2 564.9,234.9 565.9,240.8 566.9,246.3 567.9,252.2 568.9,262.9 569.9,270.1 570.9,279.7 571.9,290.4 572.9,298.2 573.9,306 574.9,311.9 575.9,316.5 576.9,320.3 577.9,320.3 578.9,321.4 579.9,321.1 580.9,321.7 581.9,323.4 582.9,322.5 583.9,322.9 584.9,323.8 585.9,322.1 586.9,322.1 587.9,324 588.9,323.8 589.9,322.3 590.9,322.2 591.9,323.7 592.9,324.2 593.9,322.3 594.9,324.4 595.9,324.3 596.9,323.8 597.9,323.6 598.9,323.2 599.9,323.7 600.9,326.8 601.9,325.9 602.9,328.2 603.9,328.1 604.9,330.6 605.9,330.9 606.9,330.6 607.9,330.5 608.9,331.7 609.9,329.6 610.9,329.4 611.9,329.6 612.9,329.7 613.9,328.5 614.9,327.2 615.9,328.6 616.9,326.6 617.9,326 618.9,326.4 619.9,326.6 620.9,325.1 621.9,324.7 622.9,324.3 623.9,323.8 624.9,321.5 625.9,320.8 626.9,320.7 627.9,319.4 628.9,317 629.9,315.5 630.9,313.6 631.9,310.8 632.9,308.8 633.9,307 634.9,307.7 635.9,305.5 636.9,304.5 637.9,300.5 638.9,300.6 639.9,298.8 640.9,298.2 641.9,295.9 642.9,296.6 643.9,293.3 644.9,293.8 645.9,293.6 646.9,293.6 647.9,292.9 648.9,292.7 649.9,293 650.9,293.6 651.9,292.5 652.9,294 653.9,295.3 654.9,296.1 655.9,296 656.9,298.1 657.9,299.6 658.9,300.2 659.9,301.8 660.9,302.7 661.9,304.8 662.9,306.6 663.9,306.9 664.9,310 665.9,312.6 666.9,314 667.9,315.3 668.9,316 669.9,318.5 670.9,319.7 671.9,320.8 672.9,323.2 673.9,322.6 674.9,325.6 675.9,324.9 676.9,327.5 677.9,328.2 678.9,328.5 679.9,330.6" fill="none" stroke="#222" stroke-width="0.65" stroke-linejoin="round" />
</g>
<rect x="479.60" y="210.60" width="200.80" height="155.60" fill="none" stroke="#333" stroke-width="1.0"/>
<line x1="478.30" y1="210.60" x2="479.60" y2="210.60" stroke="#333" stroke-width="1.0" />
<line x1="477.00" y1="220.97" x2="479.60" y2="220.97" stroke="#333" stroke-width="1.0" />
<line x1="477.80" y1="231.34" x2="479.60" y2="231.34" stroke="#333" stroke-width="1.0" />
<line x1="477.00" y1="241.71" x2="479.60" y2="241.71" stroke="#333" stroke-width="1.0" />
<line x1="477.80" y1="252.08" x2="479.60" y2="252.08" stroke="#333" stroke-width="1.0" />
<line x1="477.00" y1="262.45" x2="479.60" y2="262.45" stroke="#333" stroke-width="1.0" />
<line x1="477.80" y1="272.82" x2="479.60" y2="272.82" stroke="#333" stroke-width="1.0" />
<line x1="477.00" y1="283.19" x2="479.60" y2="283.19" stroke="#333" stroke-width="1.0" />
<line x1="477.80" y1="293.56" x2="479.60" y2="293.56" stroke="#333" stroke-width="1.0" />
<line x1="477.00" y1="303.93" x2="479.60" y2="303.93" stroke="#333" stroke-width="1.0" />
<line x1="477.80" y1="314.30" x2="479.60" y2="314.30" stroke="#333" stroke-width="1.0" />
<line x1="477.00" y1="324.67" x2="479.60" y2="324.67" stroke="#333" stroke-width="1.0" />
<line x1="477.80" y1="335.04" x2="479.60" y2="335.04" stroke="#333" stroke-width="1.0" />
<line x1="477.00" y1="345.41" x2="479.60" y2="345.41" stroke="#333" stroke-width="1.0" />
<line x1="477.80" y1="355.78" x2="479.60" y2="355.78" stroke="#333" stroke-width="1.0" />
<line x1="485.22" y1="366.20" x2="485.22" y2="368.20" stroke="#333" stroke-width="1.0" />
<line x1="509.60" y1="366.20" x2="509.60" y2="369.20" stroke="#333" stroke-width="1.0" />
<line x1="533.98" y1="366.20" x2="533.98" y2="368.20" stroke="#333" stroke-width="1.0" />
<line x1="558.37" y1="366.20" x2="558.37" y2="369.20" stroke="#333" stroke-width="1.0" />
<line x1="582.75" y1="366.20" x2="582.75" y2="368.20" stroke="#333" stroke-width="1.0" />
<line x1="607.13" y1="366.20" x2="607.13" y2="369.20" stroke="#333" stroke-width="1.0" />
<line x1="631.51" y1="366.20" x2="631.51" y2="368.20" stroke="#333" stroke-width="1.0" />
<line x1="655.89" y1="366.20" x2="655.89" y2="369.20" stroke="#333" stroke-width="1.0" />
<line x1="680.28" y1="366.20" x2="680.28" y2="368.20" stroke="#333" stroke-width="1.0" />
<g id="e_tl0" transform="matrix(1.1346 0 0 1.0779 -68.575 -28.905)" ><text x="501.75" y="377.00" font-size="7.5" fill="#000" font-weight="bold" >1120</text></g>
<g id="e_tl1" transform="matrix(1.1440 0 0 1.0868 -80.626 -32.314)" ><text x="550.52" y="377.00" font-size="7.5" fill="#000" font-weight="bold" >1125</text></g>
<g id="e_tl2" transform="matrix(1.1375 0 0 1.0806 -83.568 -29.744)" ><text x="599.28" y="377.00" font-size="7.5" fill="#000" font-weight="bold" >1130</text></g>
<g id="e_tl3" transform="matrix(1.1061 0 0 1.0508 -69.608 -18.896)" ><text x="648.05" y="377.00" font-size="7.5" fill="#000" font-weight="bold" >1135</text></g>
<g id="e_xt" transform="matrix(0.9566 0 0 0.9518 22.309 18.460)" ><text x="528.00" y="387.30" font-size="10.5" fill="#000" font-weight="bold" >Binding Energy (eV)</text></g>
<g id="e_yl" transform="matrix(1.0506 0 0 1.0379 -21.107 -10.772)" ><text x="467.85" y="288.40" font-size="10" fill="#000" font-weight="bold" text-anchor="middle" transform="rotate(-90 467.85 288.40)">Intensity (a.u)</text></g>
<g id="e_lbl" transform="matrix(1.1063 0 0 1.0510 -49.361 -11.026)" ><text x="454.40" y="215.00" font-size="19" fill="#000" font-weight="bold" >(e)</text></g>
<circle cx="488.6" cy="223.7" r="1.4" fill="#8b1a1a"/>
<g id="e_h" transform="matrix(0.9192 0 0 0.8732 39.352 28.986)" ><text x="493.60" y="225.60" font-size="9" fill="#8a4a22" font-weight="bold" >Eu<tspan dy="-3.5" font-size="6">2+</tspan><tspan dy="3.5"> </tspan>3d</text></g>
<g id="e_r" transform="matrix(1.0430 0 0 1.0707 -24.003 -15.778)" ><text x="548.70" y="226.50" font-size="7.5" fill="#d03040" font-weight="bold" >Eu<tspan dy="-3" font-size="5">2+</tspan><tspan dy="3"> </tspan>3d<tspan dy="2" font-size="5">5/2</tspan></text></g>
<g id="e_o" transform="matrix(1.0480 0 0 1.0995 -31.055 -28.368)" ><text x="637.50" y="287.60" font-size="7.5" fill="#f08a28" font-weight="bold" >Eu<tspan dy="-3" font-size="5">2+</tspan><tspan dy="3"> </tspan>3d<tspan dy="2" font-size="5">3/2</tspan></text></g>
</svg>
</body></html>
